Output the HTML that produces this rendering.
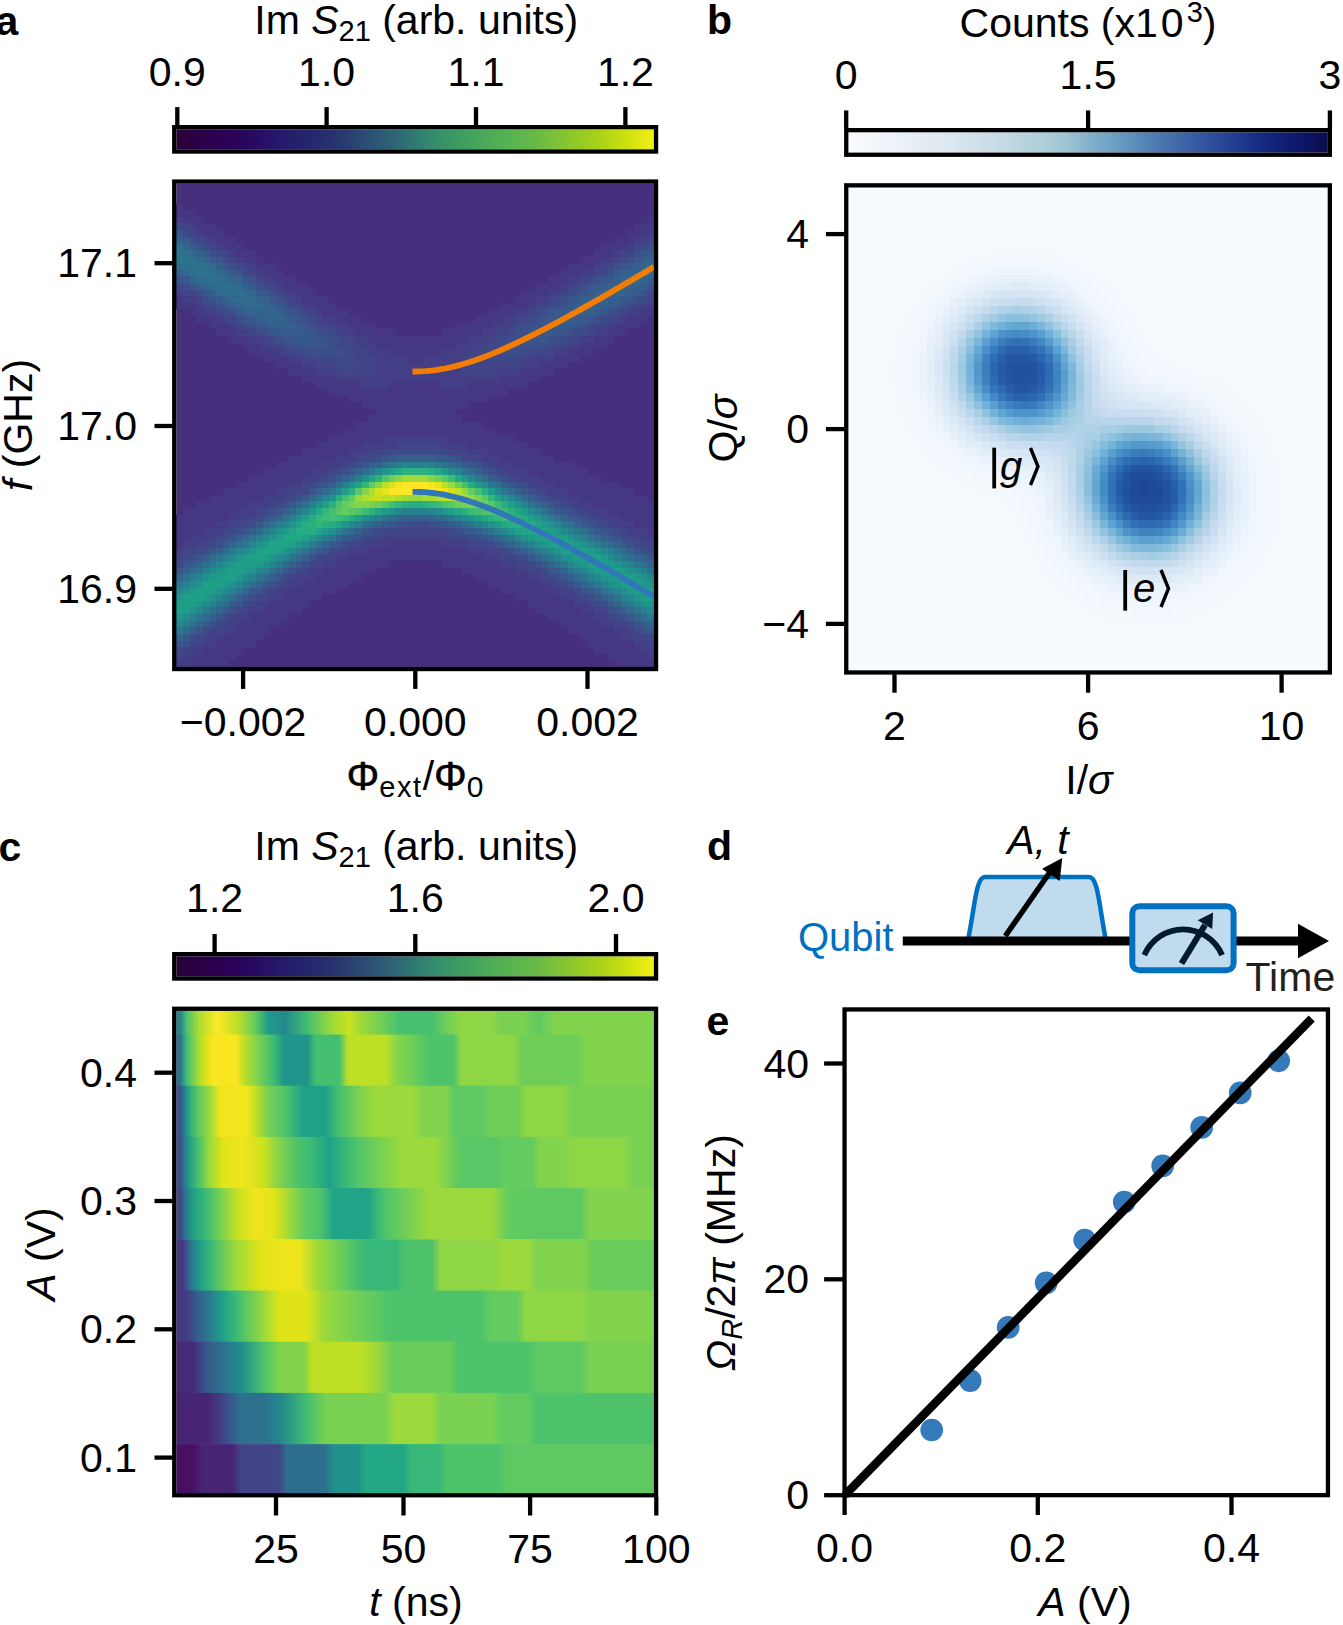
<!DOCTYPE html>
<html><head><meta charset="utf-8"><style>
html,body{margin:0;padding:0;background:#fff;}
svg{display:block;font-family:"Liberation Sans", sans-serif;}
</style></head><body>
<svg width="1343" height="1625" viewBox="0 0 1343 1625">
<defs><linearGradient id="cbv" x1="0" y1="0" x2="1" y2="0"><stop offset="0" stop-color="#2a0038"/><stop offset="0.05" stop-color="#2b0048"/><stop offset="0.1" stop-color="#2a0055"/><stop offset="0.15" stop-color="#28075f"/><stop offset="0.2" stop-color="#261468"/><stop offset="0.25" stop-color="#25216d"/><stop offset="0.3" stop-color="#272a6e"/><stop offset="0.35" stop-color="#283a70"/><stop offset="0.4" stop-color="#2b4e74"/><stop offset="0.45" stop-color="#2d6275"/><stop offset="0.5" stop-color="#2f7a72"/><stop offset="0.55" stop-color="#36906a"/><stop offset="0.6" stop-color="#3f9e60"/><stop offset="0.65" stop-color="#4aab58"/><stop offset="0.7" stop-color="#58b350"/><stop offset="0.75" stop-color="#68b948"/><stop offset="0.8" stop-color="#80c236"/><stop offset="0.85" stop-color="#98cb22"/><stop offset="0.9" stop-color="#b2d516"/><stop offset="0.95" stop-color="#d2e30f"/><stop offset="1.0" stop-color="#f2f016"/></linearGradient><linearGradient id="cbb" x1="0" y1="0" x2="1" y2="0"><stop offset="0" stop-color="#f9fbfe"/><stop offset="0.1" stop-color="#edf2f8"/><stop offset="0.2" stop-color="#dfe8f0"/><stop offset="0.3" stop-color="#cbdce6"/><stop offset="0.4" stop-color="#b0cfda"/><stop offset="0.45" stop-color="#a2c6d4"/><stop offset="0.5" stop-color="#84b3cc"/><stop offset="0.55" stop-color="#6fa1c4"/><stop offset="0.6" stop-color="#5a8cba"/><stop offset="0.65" stop-color="#4a78b0"/><stop offset="0.7" stop-color="#3d64a6"/><stop offset="0.75" stop-color="#30519c"/><stop offset="0.8" stop-color="#233f92"/><stop offset="0.85" stop-color="#182e86"/><stop offset="0.9" stop-color="#102078"/><stop offset="0.95" stop-color="#0d1664"/><stop offset="1.0" stop-color="#0a0d4c"/></linearGradient><linearGradient id="gvir" x1="0" y1="0" x2="1" y2="0"><stop offset="0.0000" stop-color="#440154"/><stop offset="0.0213" stop-color="#46085c"/><stop offset="0.0426" stop-color="#471063"/><stop offset="0.0638" stop-color="#48186a"/><stop offset="0.0851" stop-color="#481f70"/><stop offset="0.1064" stop-color="#482677"/><stop offset="0.1277" stop-color="#472d7b"/><stop offset="0.1489" stop-color="#463480"/><stop offset="0.1702" stop-color="#443a83"/><stop offset="0.1915" stop-color="#424186"/><stop offset="0.2128" stop-color="#3f4788"/><stop offset="0.2340" stop-color="#3d4d8a"/><stop offset="0.2553" stop-color="#3a538b"/><stop offset="0.2766" stop-color="#38598c"/><stop offset="0.2979" stop-color="#355f8d"/><stop offset="0.3191" stop-color="#32648e"/><stop offset="0.3404" stop-color="#306a8e"/><stop offset="0.3617" stop-color="#2e6f8e"/><stop offset="0.3830" stop-color="#2b748e"/><stop offset="0.4043" stop-color="#29798e"/><stop offset="0.4255" stop-color="#277e8e"/><stop offset="0.4468" stop-color="#25838e"/><stop offset="0.4681" stop-color="#23888e"/><stop offset="0.4894" stop-color="#218e8d"/><stop offset="0.5106" stop-color="#20928c"/><stop offset="0.5319" stop-color="#1f988b"/><stop offset="0.5532" stop-color="#1e9d89"/><stop offset="0.5745" stop-color="#1fa287"/><stop offset="0.5957" stop-color="#22a785"/><stop offset="0.6170" stop-color="#25ac82"/><stop offset="0.6383" stop-color="#2cb17e"/><stop offset="0.6596" stop-color="#32b67a"/><stop offset="0.6809" stop-color="#3bbb75"/><stop offset="0.7021" stop-color="#44bf70"/><stop offset="0.7234" stop-color="#50c46a"/><stop offset="0.7447" stop-color="#5ac864"/><stop offset="0.7660" stop-color="#67cc5c"/><stop offset="0.7872" stop-color="#73d056"/><stop offset="0.8085" stop-color="#7fd34e"/><stop offset="0.8298" stop-color="#8ed645"/><stop offset="0.8511" stop-color="#9bd93c"/><stop offset="0.8723" stop-color="#aadc32"/><stop offset="0.8936" stop-color="#b8de29"/><stop offset="0.9149" stop-color="#c8e020"/><stop offset="0.9362" stop-color="#d5e21a"/><stop offset="0.9574" stop-color="#e5e419"/><stop offset="0.9787" stop-color="#f1e51d"/><stop offset="1.0000" stop-color="#fde725"/></linearGradient><linearGradient id="gblu" x1="0" y1="0" x2="1" y2="0"><stop offset="0.0000" stop-color="#f7fbff"/><stop offset="0.0213" stop-color="#f3f8fe"/><stop offset="0.0426" stop-color="#eff6fc"/><stop offset="0.0638" stop-color="#eaf3fb"/><stop offset="0.0851" stop-color="#e7f0fa"/><stop offset="0.1064" stop-color="#e2edf8"/><stop offset="0.1277" stop-color="#deebf7"/><stop offset="0.1489" stop-color="#d9e8f5"/><stop offset="0.1702" stop-color="#d6e5f4"/><stop offset="0.1915" stop-color="#d1e2f3"/><stop offset="0.2128" stop-color="#cde0f1"/><stop offset="0.2340" stop-color="#caddf0"/><stop offset="0.2553" stop-color="#c4daee"/><stop offset="0.2766" stop-color="#bed8ec"/><stop offset="0.2979" stop-color="#b7d4ea"/><stop offset="0.3191" stop-color="#b0d2e7"/><stop offset="0.3404" stop-color="#a9cfe5"/><stop offset="0.3617" stop-color="#a3cce3"/><stop offset="0.3830" stop-color="#9ac8e0"/><stop offset="0.4043" stop-color="#92c4de"/><stop offset="0.4255" stop-color="#8abfdd"/><stop offset="0.4468" stop-color="#80badb"/><stop offset="0.4681" stop-color="#78b5d9"/><stop offset="0.4894" stop-color="#6eb0d7"/><stop offset="0.5106" stop-color="#67abd5"/><stop offset="0.5319" stop-color="#5fa4d1"/><stop offset="0.5532" stop-color="#599fcf"/><stop offset="0.5745" stop-color="#5298cb"/><stop offset="0.5957" stop-color="#4b92c9"/><stop offset="0.6170" stop-color="#468cc5"/><stop offset="0.6383" stop-color="#4185c2"/><stop offset="0.6596" stop-color="#3c7fbf"/><stop offset="0.6809" stop-color="#3678bb"/><stop offset="0.7021" stop-color="#3273b8"/><stop offset="0.7234" stop-color="#2e6db4"/><stop offset="0.7447" stop-color="#2c68b1"/><stop offset="0.7660" stop-color="#2862ad"/><stop offset="0.7872" stop-color="#265daa"/><stop offset="0.8085" stop-color="#2459a7"/><stop offset="0.8298" stop-color="#2254a3"/><stop offset="0.8511" stop-color="#2151a0"/><stop offset="0.8723" stop-color="#204d9c"/><stop offset="0.8936" stop-color="#1e4999"/><stop offset="0.9149" stop-color="#1d4595"/><stop offset="0.9362" stop-color="#1d4191"/><stop offset="0.9574" stop-color="#1c3d8d"/><stop offset="0.9787" stop-color="#1c3a8a"/><stop offset="1.0000" stop-color="#1b3686"/></linearGradient><linearGradient id="gc0" x1="0" y1="0" x2="1" y2="0"><stop offset="0.0000" stop-color="#25848e"/><stop offset="0.0084" stop-color="#25848e"/><stop offset="0.0223" stop-color="#4ec36b"/><stop offset="0.0484" stop-color="#b0dd2f"/><stop offset="0.0856" stop-color="#fde725"/><stop offset="0.1284" stop-color="#bddf26"/><stop offset="0.1657" stop-color="#63cb5f"/><stop offset="0.1917" stop-color="#1e9c89"/><stop offset="0.2271" stop-color="#23898e"/><stop offset="0.2755" stop-color="#44bf70"/><stop offset="0.3239" stop-color="#9bd93c"/><stop offset="0.3611" stop-color="#cae11f"/><stop offset="0.3891" stop-color="#9bd93c"/><stop offset="0.4319" stop-color="#6ece58"/><stop offset="0.4669" stop-color="#48c16e"/><stop offset="0.5346" stop-color="#48c16e"/><stop offset="0.5659" stop-color="#6ece58"/><stop offset="0.5972" stop-color="#8ed645"/><stop offset="0.6612" stop-color="#8ed645"/><stop offset="0.6791" stop-color="#7ad151"/><stop offset="0.7282" stop-color="#7ad151"/><stop offset="0.7595" stop-color="#5ec962"/><stop offset="0.7908" stop-color="#81d34d"/><stop offset="1.0000" stop-color="#81d34d"/></linearGradient><linearGradient id="gc1" x1="0" y1="0" x2="1" y2="0"><stop offset="0.0000" stop-color="#2c738e"/><stop offset="0.0084" stop-color="#2c738e"/><stop offset="0.0205" stop-color="#3bbb75"/><stop offset="0.0391" stop-color="#86d549"/><stop offset="0.0577" stop-color="#d2e21b"/><stop offset="0.0759" stop-color="#f8e621"/><stop offset="0.1251" stop-color="#f8e621"/><stop offset="0.1415" stop-color="#bddf26"/><stop offset="0.1713" stop-color="#7ad151"/><stop offset="0.2048" stop-color="#3bbb75"/><stop offset="0.2249" stop-color="#1f958b"/><stop offset="0.2740" stop-color="#1f958b"/><stop offset="0.2919" stop-color="#44bf70"/><stop offset="0.3410" stop-color="#44bf70"/><stop offset="0.3589" stop-color="#bddf26"/><stop offset="0.4378" stop-color="#bddf26"/><stop offset="0.4617" stop-color="#86d549"/><stop offset="0.4989" stop-color="#69cd5b"/><stop offset="0.5302" stop-color="#4ec36b"/><stop offset="0.5793" stop-color="#4ec36b"/><stop offset="0.5972" stop-color="#8ed645"/><stop offset="0.7059" stop-color="#8ed645"/><stop offset="0.7238" stop-color="#6ece58"/><stop offset="0.8399" stop-color="#6ece58"/><stop offset="0.8578" stop-color="#81d34d"/><stop offset="1.0000" stop-color="#81d34d"/></linearGradient><linearGradient id="gc2" x1="0" y1="0" x2="1" y2="0"><stop offset="0.0000" stop-color="#3b528b"/><stop offset="0.0084" stop-color="#3b528b"/><stop offset="0.0223" stop-color="#1e9c89"/><stop offset="0.0465" stop-color="#63cb5f"/><stop offset="0.0707" stop-color="#9bd93c"/><stop offset="0.0908" stop-color="#f1e51d"/><stop offset="0.1474" stop-color="#f1e51d"/><stop offset="0.1675" stop-color="#bddf26"/><stop offset="0.1899" stop-color="#7ad151"/><stop offset="0.2290" stop-color="#4ec36b"/><stop offset="0.2658" stop-color="#1fa188"/><stop offset="0.3112" stop-color="#1fa188"/><stop offset="0.3388" stop-color="#44bf70"/><stop offset="0.3816" stop-color="#7ad151"/><stop offset="0.4147" stop-color="#9bd93c"/><stop offset="0.4974" stop-color="#9bd93c"/><stop offset="0.5153" stop-color="#81d34d"/><stop offset="0.5644" stop-color="#81d34d"/><stop offset="0.5823" stop-color="#5ec962"/><stop offset="0.6389" stop-color="#5ec962"/><stop offset="0.6567" stop-color="#6ece58"/><stop offset="0.7133" stop-color="#6ece58"/><stop offset="0.7312" stop-color="#8ed645"/><stop offset="0.8101" stop-color="#8ed645"/><stop offset="0.8280" stop-color="#7ad151"/><stop offset="1.0000" stop-color="#7ad151"/></linearGradient><linearGradient id="gc3" x1="0" y1="0" x2="1" y2="0"><stop offset="0.0000" stop-color="#3b528b"/><stop offset="0.0084" stop-color="#3b528b"/><stop offset="0.0223" stop-color="#21918c"/><stop offset="0.0447" stop-color="#44bf70"/><stop offset="0.0689" stop-color="#9bd93c"/><stop offset="0.0968" stop-color="#dfe318"/><stop offset="0.1415" stop-color="#f1e51d"/><stop offset="0.1824" stop-color="#cae11f"/><stop offset="0.2159" stop-color="#81d34d"/><stop offset="0.2532" stop-color="#4ec36b"/><stop offset="0.2829" stop-color="#3bbb75"/><stop offset="0.3202" stop-color="#1fa188"/><stop offset="0.3574" stop-color="#3bbb75"/><stop offset="0.3946" stop-color="#5ec962"/><stop offset="0.4393" stop-color="#81d34d"/><stop offset="0.4706" stop-color="#9bd93c"/><stop offset="0.5421" stop-color="#9bd93c"/><stop offset="0.5696" stop-color="#7ad151"/><stop offset="0.5972" stop-color="#58c765"/><stop offset="0.6687" stop-color="#58c765"/><stop offset="0.6865" stop-color="#63cb5f"/><stop offset="0.7431" stop-color="#63cb5f"/><stop offset="0.7610" stop-color="#81d34d"/><stop offset="0.8101" stop-color="#81d34d"/><stop offset="0.8280" stop-color="#8ed645"/><stop offset="0.9367" stop-color="#8ed645"/><stop offset="0.9546" stop-color="#7ad151"/><stop offset="1.0000" stop-color="#7ad151"/></linearGradient><linearGradient id="gc4" x1="0" y1="0" x2="1" y2="0"><stop offset="0.0000" stop-color="#3e4989"/><stop offset="0.0084" stop-color="#3e4989"/><stop offset="0.0205" stop-color="#287d8e"/><stop offset="0.0410" stop-color="#22a884"/><stop offset="0.0670" stop-color="#44bf70"/><stop offset="0.0968" stop-color="#81d34d"/><stop offset="0.1303" stop-color="#cae11f"/><stop offset="0.1675" stop-color="#f1e51d"/><stop offset="0.2048" stop-color="#dfe318"/><stop offset="0.2383" stop-color="#9bd93c"/><stop offset="0.2681" stop-color="#63cb5f"/><stop offset="0.3016" stop-color="#4ec36b"/><stop offset="0.3291" stop-color="#20a386"/><stop offset="0.4006" stop-color="#20a386"/><stop offset="0.4356" stop-color="#4ec36b"/><stop offset="0.4914" stop-color="#7ad151"/><stop offset="0.5302" stop-color="#9bd93c"/><stop offset="0.6612" stop-color="#9bd93c"/><stop offset="0.6962" stop-color="#63cb5f"/><stop offset="0.7312" stop-color="#5ec962"/><stop offset="0.8474" stop-color="#5ec962"/><stop offset="0.8652" stop-color="#81d34d"/><stop offset="1.0000" stop-color="#81d34d"/></linearGradient><linearGradient id="gc5" x1="0" y1="0" x2="1" y2="0"><stop offset="0.0000" stop-color="#453781"/><stop offset="0.0140" stop-color="#453781"/><stop offset="0.0279" stop-color="#2f6c8e"/><stop offset="0.0484" stop-color="#1e9c89"/><stop offset="0.0782" stop-color="#44bf70"/><stop offset="0.1229" stop-color="#9bd93c"/><stop offset="0.1750" stop-color="#dfe318"/><stop offset="0.2100" stop-color="#ece51b"/><stop offset="0.2591" stop-color="#ece51b"/><stop offset="0.2978" stop-color="#9bd93c"/><stop offset="0.3574" stop-color="#5ec962"/><stop offset="0.3961" stop-color="#37b878"/><stop offset="0.4602" stop-color="#37b878"/><stop offset="0.4780" stop-color="#4ec36b"/><stop offset="0.5346" stop-color="#4ec36b"/><stop offset="0.5525" stop-color="#8ed645"/><stop offset="0.6612" stop-color="#8ed645"/><stop offset="0.6791" stop-color="#9bd93c"/><stop offset="0.7357" stop-color="#9bd93c"/><stop offset="0.7535" stop-color="#81d34d"/><stop offset="0.8548" stop-color="#81d34d"/><stop offset="0.8727" stop-color="#69cd5b"/><stop offset="1.0000" stop-color="#69cd5b"/></linearGradient><linearGradient id="gc6" x1="0" y1="0" x2="1" y2="0"><stop offset="0.0000" stop-color="#443a83"/><stop offset="0.0223" stop-color="#443a83"/><stop offset="0.0447" stop-color="#355f8d"/><stop offset="0.0745" stop-color="#26828e"/><stop offset="0.1042" stop-color="#22a884"/><stop offset="0.1378" stop-color="#4ec36b"/><stop offset="0.1824" stop-color="#9bd93c"/><stop offset="0.2174" stop-color="#dfe318"/><stop offset="0.2740" stop-color="#dfe318"/><stop offset="0.3090" stop-color="#9bd93c"/><stop offset="0.3649" stop-color="#7ad151"/><stop offset="0.4170" stop-color="#5ec962"/><stop offset="0.4483" stop-color="#4ec36b"/><stop offset="0.6389" stop-color="#4ec36b"/><stop offset="0.6567" stop-color="#63cb5f"/><stop offset="0.7133" stop-color="#63cb5f"/><stop offset="0.7312" stop-color="#8ed645"/><stop offset="0.8474" stop-color="#8ed645"/><stop offset="0.8652" stop-color="#81d34d"/><stop offset="1.0000" stop-color="#81d34d"/></linearGradient><linearGradient id="gc7" x1="0" y1="0" x2="1" y2="0"><stop offset="0.0000" stop-color="#472a7a"/><stop offset="0.0357" stop-color="#472a7a"/><stop offset="0.0633" stop-color="#375a8c"/><stop offset="0.1005" stop-color="#2c738e"/><stop offset="0.1396" stop-color="#21918c"/><stop offset="0.1843" stop-color="#4ec36b"/><stop offset="0.2174" stop-color="#81d34d"/><stop offset="0.2666" stop-color="#81d34d"/><stop offset="0.2844" stop-color="#bddf26"/><stop offset="0.3857" stop-color="#bddf26"/><stop offset="0.4207" stop-color="#9bd93c"/><stop offset="0.4557" stop-color="#69cd5b"/><stop offset="0.5719" stop-color="#69cd5b"/><stop offset="0.5897" stop-color="#4ec36b"/><stop offset="0.7357" stop-color="#4ec36b"/><stop offset="0.7535" stop-color="#5ec962"/><stop offset="0.8474" stop-color="#5ec962"/><stop offset="0.8652" stop-color="#7ad151"/><stop offset="1.0000" stop-color="#7ad151"/></linearGradient><linearGradient id="gc8" x1="0" y1="0" x2="1" y2="0"><stop offset="0.0000" stop-color="#482475"/><stop offset="0.0655" stop-color="#482475"/><stop offset="0.1005" stop-color="#3e4989"/><stop offset="0.1355" stop-color="#2d718e"/><stop offset="0.1847" stop-color="#2d718e"/><stop offset="0.2197" stop-color="#228b8d"/><stop offset="0.2755" stop-color="#44bf70"/><stop offset="0.3142" stop-color="#7ad151"/><stop offset="0.4378" stop-color="#7ad151"/><stop offset="0.4557" stop-color="#9bd93c"/><stop offset="0.5346" stop-color="#9bd93c"/><stop offset="0.5525" stop-color="#7ad151"/><stop offset="0.6612" stop-color="#7ad151"/><stop offset="0.6791" stop-color="#63cb5f"/><stop offset="0.7357" stop-color="#63cb5f"/><stop offset="0.7535" stop-color="#4ec36b"/><stop offset="1.0000" stop-color="#4ec36b"/></linearGradient><linearGradient id="gc9" x1="0" y1="0" x2="1" y2="0"><stop offset="0.0000" stop-color="#471063"/><stop offset="0.0357" stop-color="#471063"/><stop offset="0.0536" stop-color="#482475"/><stop offset="0.1176" stop-color="#482475"/><stop offset="0.1355" stop-color="#414487"/><stop offset="0.2144" stop-color="#414487"/><stop offset="0.2323" stop-color="#2e6f8e"/><stop offset="0.3112" stop-color="#2e6f8e"/><stop offset="0.3291" stop-color="#21918c"/><stop offset="0.3783" stop-color="#21918c"/><stop offset="0.3961" stop-color="#22a884"/><stop offset="0.4751" stop-color="#22a884"/><stop offset="0.4929" stop-color="#37b878"/><stop offset="0.5495" stop-color="#37b878"/><stop offset="0.5674" stop-color="#4ec36b"/><stop offset="0.6761" stop-color="#4ec36b"/><stop offset="0.6940" stop-color="#5ec962"/><stop offset="1.0000" stop-color="#5ec962"/></linearGradient></defs>
<rect width="1343" height="1625" fill="#fff"/>
<rect x="176.4" y="183.7" width="477.60" height="483.30" fill="#46307e"/>
<g transform="translate(176.40,183.70) scale(6.6333,6.6205)" shape-rendering="crispEdges">
<path fill="#453781" d="M0 3h1v1h-1zM0 4h3v1h-3zM1 5h3v1h-3zM71 5h1v1h-1zM3 6h3v1h-3zM69 6h3v1h-3zM4 7h3v1h-3zM68 7h3v1h-3zM6 8h3v1h-3zM66 8h3v1h-3zM7 9h3v1h-3zM64 9h4v1h-4zM9 10h3v1h-3zM63 10h3v1h-3zM10 11h3v1h-3zM61 11h3v1h-3zM12 12h3v1h-3zM59 12h4v1h-4zM13 13h3v1h-3zM58 13h3v1h-3zM15 14h3v1h-3zM56 14h3v1h-3zM16 15h4v1h-4zM54 15h4v1h-4zM18 16h3v1h-3zM52 16h4v1h-4zM0 17h1v1h-1zM19 17h4v1h-4zM51 17h3v1h-3zM0 18h3v1h-3zM21 18h3v1h-3zM49 18h4v1h-4zM2 19h2v1h-2zM22 19h4v1h-4zM47 19h4v1h-4zM70 19h2v1h-2zM3 20h3v1h-3zM24 20h4v1h-4zM45 20h4v1h-4zM68 20h3v1h-3zM5 21h3v1h-3zM26 21h4v1h-4zM42 21h6v1h-6zM66 21h4v1h-4zM6 22h3v1h-3zM27 22h6v1h-6zM40 22h6v1h-6zM65 22h3v1h-3zM8 23h3v1h-3zM29 23h15v1h-15zM63 23h3v1h-3zM10 24h3v1h-3zM30 24h12v1h-12zM61 24h4v1h-4zM11 25h4v1h-4zM32 25h8v1h-8zM59 25h4v1h-4zM13 26h4v1h-4zM35 26h2v1h-2zM57 26h4v1h-4zM15 27h4v1h-4zM55 27h4v1h-4zM17 28h4v1h-4zM52 28h5v1h-5zM19 29h5v1h-5zM49 29h6v1h-6zM21 30h7v1h-7zM32 30h8v1h-8zM44 30h9v1h-9zM23 31h27v1h-27zM26 32h21v1h-21zM28 33h16v1h-16zM30 34h12v1h-12zM29 35h14v1h-14zM27 36h19v1h-19zM25 37h23v1h-23zM23 38h8v1h-8zM41 38h10v1h-10zM21 39h7v1h-7zM44 39h9v1h-9zM19 40h7v1h-7zM47 40h8v1h-8zM17 41h7v1h-7zM49 41h8v1h-8zM15 42h7v1h-7zM51 42h9v1h-9zM13 43h7v1h-7zM53 43h9v1h-9zM11 44h8v1h-8zM55 44h9v1h-9zM9 45h8v1h-8zM57 45h10v1h-10zM7 46h8v1h-8zM59 46h10v1h-10zM5 47h8v1h-8zM61 47h10v1h-10zM3 48h8v1h-8zM63 48h9v1h-9zM1 49h8v1h-8zM65 49h7v1h-7zM0 50h8v1h-8zM67 50h5v1h-5zM0 51h6v1h-6zM69 51h3v1h-3zM0 52h4v1h-4zM71 52h1v1h-1zM0 53h2v1h-2zM0 54h1v1h-1zM32 54h8v1h-8zM29 55h15v1h-15zM26 56h20v1h-20zM24 57h8v1h-8zM40 57h9v1h-9zM22 58h8v1h-8zM43 58h8v1h-8zM21 59h7v1h-7zM45 59h8v1h-8zM19 60h7v1h-7zM47 60h8v1h-8zM17 61h7v1h-7zM49 61h7v1h-7zM16 62h6v1h-6zM51 62h7v1h-7zM14 63h6v1h-6zM53 63h7v1h-7zM13 64h6v1h-6zM54 64h7v1h-7zM11 65h6v1h-6zM56 65h7v1h-7zM10 66h6v1h-6zM58 66h6v1h-6zM9 67h5v1h-5zM59 67h7v1h-7zM7 68h6v1h-6zM61 68h6v1h-6zM6 69h6v1h-6zM62 69h7v1h-7zM4 70h6v1h-6zM63 70h7v1h-7zM3 71h6v1h-6zM65 71h6v1h-6zM2 72h6v1h-6zM66 72h6v1h-6z"/>
<path fill="#433e85" d="M0 5h1v1h-1zM2 6h1v1h-1zM3 7h1v1h-1zM71 7h1v1h-1zM5 8h1v1h-1zM69 8h2v1h-2zM6 9h1v1h-1zM68 9h1v1h-1zM8 10h1v1h-1zM66 10h1v1h-1zM9 11h1v1h-1zM64 11h2v1h-2zM11 12h1v1h-1zM63 12h1v1h-1zM12 13h1v1h-1zM61 13h2v1h-2zM13 14h2v1h-2zM59 14h2v1h-2zM15 15h1v1h-1zM58 15h1v1h-1zM0 16h1v1h-1zM16 16h2v1h-2zM56 16h2v1h-2zM1 17h2v1h-2zM18 17h1v1h-1zM54 17h2v1h-2zM3 18h1v1h-1zM19 18h2v1h-2zM53 18h1v1h-1zM70 18h2v1h-2zM4 19h2v1h-2zM21 19h1v1h-1zM51 19h2v1h-2zM68 19h2v1h-2zM6 20h1v1h-1zM22 20h2v1h-2zM49 20h2v1h-2zM67 20h1v1h-1zM8 21h1v1h-1zM24 21h2v1h-2zM48 21h2v1h-2zM65 21h1v1h-1zM9 22h2v1h-2zM25 22h2v1h-2zM46 22h2v1h-2zM63 22h2v1h-2zM11 23h2v1h-2zM27 23h2v1h-2zM44 23h3v1h-3zM61 23h2v1h-2zM13 24h1v1h-1zM28 24h2v1h-2zM42 24h3v1h-3zM59 24h2v1h-2zM15 25h1v1h-1zM29 25h3v1h-3zM40 25h4v1h-4zM57 25h2v1h-2zM17 26h2v1h-2zM30 26h5v1h-5zM37 26h6v1h-6zM54 26h3v1h-3zM19 27h2v1h-2zM30 27h12v1h-12zM52 27h3v1h-3zM21 28h3v1h-3zM30 28h13v1h-13zM48 28h4v1h-4zM24 29h25v1h-25zM28 30h4v1h-4zM40 30h4v1h-4zM31 38h10v1h-10zM28 39h5v1h-5zM40 39h4v1h-4zM26 40h3v1h-3zM44 40h3v1h-3zM24 41h3v1h-3zM46 41h3v1h-3zM22 42h3v1h-3zM48 42h3v1h-3zM20 43h3v1h-3zM50 43h3v1h-3zM19 44h2v1h-2zM52 44h3v1h-3zM17 45h2v1h-2zM54 45h3v1h-3zM15 46h2v1h-2zM56 46h3v1h-3zM13 47h3v1h-3zM58 47h3v1h-3zM11 48h3v1h-3zM60 48h3v1h-3zM9 49h3v1h-3zM62 49h3v1h-3zM8 50h2v1h-2zM64 50h3v1h-3zM6 51h2v1h-2zM66 51h3v1h-3zM4 52h3v1h-3zM68 52h3v1h-3zM2 53h3v1h-3zM31 53h10v1h-10zM70 53h2v1h-2zM1 54h2v1h-2zM28 54h4v1h-4zM40 54h4v1h-4zM0 55h1v1h-1zM26 55h3v1h-3zM44 55h3v1h-3zM24 56h2v1h-2zM46 56h3v1h-3zM22 57h2v1h-2zM49 57h2v1h-2zM20 58h2v1h-2zM51 58h2v1h-2zM18 59h3v1h-3zM53 59h2v1h-2zM17 60h2v1h-2zM55 60h2v1h-2zM15 61h2v1h-2zM56 61h2v1h-2zM14 62h2v1h-2zM58 62h2v1h-2zM12 63h2v1h-2zM60 63h2v1h-2zM11 64h2v1h-2zM61 64h2v1h-2zM9 65h2v1h-2zM63 65h2v1h-2zM8 66h2v1h-2zM64 66h2v1h-2zM7 67h2v1h-2zM66 67h2v1h-2zM5 68h2v1h-2zM67 68h2v1h-2zM4 69h2v1h-2zM69 69h2v1h-2zM2 70h2v1h-2zM70 70h2v1h-2zM1 71h2v1h-2zM71 71h1v1h-1zM0 72h2v1h-2z"/>
<path fill="#3e4989" d="M0 6h1v1h-1zM1 7h1v1h-1zM3 8h1v1h-1zM4 9h1v1h-1zM70 9h1v1h-1zM6 10h1v1h-1zM7 11h1v1h-1zM67 11h1v1h-1zM9 12h1v1h-1zM65 12h1v1h-1zM10 13h1v1h-1zM64 13h1v1h-1zM62 14h1v1h-1zM0 15h1v1h-1zM13 15h1v1h-1zM60 15h1v1h-1zM2 16h1v1h-1zM59 16h1v1h-1zM71 16h1v1h-1zM16 17h1v1h-1zM57 17h1v1h-1zM70 17h1v1h-1zM5 18h1v1h-1zM17 18h1v1h-1zM56 18h1v1h-1zM68 18h1v1h-1zM7 19h1v1h-1zM19 19h1v1h-1zM54 19h1v1h-1zM66 19h1v1h-1zM20 20h1v1h-1zM53 20h1v1h-1zM64 20h1v1h-1zM10 21h1v1h-1zM21 21h1v1h-1zM51 21h1v1h-1zM62 21h1v1h-1zM12 22h1v1h-1zM23 22h1v1h-1zM50 22h1v1h-1zM60 22h2v1h-2zM14 23h1v1h-1zM24 23h1v1h-1zM48 23h2v1h-2zM58 23h2v1h-2zM16 24h1v1h-1zM24 24h2v1h-2zM47 24h2v1h-2zM56 24h1v1h-1zM18 25h2v1h-2zM25 25h2v1h-2zM46 25h3v1h-3zM52 25h3v1h-3zM21 26h6v1h-6zM46 26h6v1h-6zM24 27h2v1h-2zM31 40h10v1h-10zM28 41h2v1h-2zM43 41h1v1h-1zM26 42h1v1h-1zM46 42h1v1h-1zM24 43h1v1h-1zM48 43h1v1h-1zM22 44h1v1h-1zM50 44h1v1h-1zM20 45h1v1h-1zM52 45h1v1h-1zM19 46h1v1h-1zM54 46h1v1h-1zM17 47h1v1h-1zM56 47h1v1h-1zM15 48h1v1h-1zM58 48h1v1h-1zM13 49h1v1h-1zM60 49h1v1h-1zM12 50h1v1h-1zM62 50h1v1h-1zM10 51h1v1h-1zM35 51h3v1h-3zM64 51h1v1h-1zM8 52h1v1h-1zM30 52h2v1h-2zM40 52h2v1h-2zM66 52h1v1h-1zM6 53h1v1h-1zM28 53h1v1h-1zM44 53h1v1h-1zM67 53h2v1h-2zM5 54h1v1h-1zM25 54h1v1h-1zM46 54h2v1h-2zM69 54h1v1h-1zM3 55h1v1h-1zM23 55h1v1h-1zM49 55h1v1h-1zM71 55h1v1h-1zM1 56h1v1h-1zM21 56h1v1h-1zM51 56h1v1h-1zM0 57h1v1h-1zM53 57h1v1h-1zM18 58h1v1h-1zM55 58h1v1h-1zM16 59h1v1h-1zM56 59h1v1h-1zM15 60h1v1h-1zM58 60h1v1h-1zM13 61h1v1h-1zM60 61h1v1h-1zM12 62h1v1h-1zM61 62h1v1h-1zM10 63h1v1h-1zM63 63h1v1h-1zM9 64h1v1h-1zM7 65h1v1h-1zM66 65h1v1h-1zM6 66h1v1h-1zM68 66h1v1h-1zM4 67h1v1h-1zM69 67h1v1h-1zM3 68h1v1h-1zM71 68h1v1h-1zM2 69h1v1h-1zM0 70h1v1h-1z"/>
<path fill="#414487" d="M1 6h1v1h-1zM2 7h1v1h-1zM4 8h1v1h-1zM71 8h1v1h-1zM5 9h1v1h-1zM69 9h1v1h-1zM7 10h1v1h-1zM67 10h2v1h-2zM8 11h1v1h-1zM66 11h1v1h-1zM10 12h1v1h-1zM64 12h1v1h-1zM11 13h1v1h-1zM63 13h1v1h-1zM12 14h1v1h-1zM61 14h1v1h-1zM14 15h1v1h-1zM59 15h1v1h-1zM1 16h1v1h-1zM15 16h1v1h-1zM58 16h1v1h-1zM3 17h1v1h-1zM17 17h1v1h-1zM56 17h1v1h-1zM71 17h1v1h-1zM4 18h1v1h-1zM18 18h1v1h-1zM54 18h2v1h-2zM69 18h1v1h-1zM6 19h1v1h-1zM20 19h1v1h-1zM53 19h1v1h-1zM67 19h1v1h-1zM7 20h2v1h-2zM21 20h1v1h-1zM51 20h2v1h-2zM65 20h2v1h-2zM9 21h1v1h-1zM22 21h2v1h-2zM50 21h1v1h-1zM63 21h2v1h-2zM11 22h1v1h-1zM24 22h1v1h-1zM48 22h2v1h-2zM62 22h1v1h-1zM13 23h1v1h-1zM25 23h2v1h-2zM47 23h1v1h-1zM60 23h1v1h-1zM14 24h2v1h-2zM26 24h2v1h-2zM45 24h2v1h-2zM57 24h2v1h-2zM16 25h2v1h-2zM27 25h2v1h-2zM44 25h2v1h-2zM55 25h2v1h-2zM19 26h2v1h-2zM27 26h3v1h-3zM43 26h3v1h-3zM52 26h2v1h-2zM21 27h3v1h-3zM26 27h4v1h-4zM42 27h10v1h-10zM24 28h6v1h-6zM43 28h5v1h-5zM33 39h7v1h-7zM29 40h2v1h-2zM41 40h3v1h-3zM27 41h1v1h-1zM44 41h2v1h-2zM25 42h1v1h-1zM47 42h1v1h-1zM23 43h1v1h-1zM49 43h1v1h-1zM21 44h1v1h-1zM51 44h1v1h-1zM19 45h1v1h-1zM53 45h1v1h-1zM17 46h2v1h-2zM55 46h1v1h-1zM16 47h1v1h-1zM57 47h1v1h-1zM14 48h1v1h-1zM59 48h1v1h-1zM12 49h1v1h-1zM61 49h1v1h-1zM10 50h2v1h-2zM63 50h1v1h-1zM8 51h2v1h-2zM65 51h1v1h-1zM7 52h1v1h-1zM32 52h8v1h-8zM67 52h1v1h-1zM5 53h1v1h-1zM29 53h2v1h-2zM41 53h3v1h-3zM69 53h1v1h-1zM3 54h2v1h-2zM26 54h2v1h-2zM44 54h2v1h-2zM70 54h2v1h-2zM1 55h2v1h-2zM24 55h2v1h-2zM47 55h2v1h-2zM0 56h1v1h-1zM22 56h2v1h-2zM49 56h2v1h-2zM20 57h2v1h-2zM51 57h2v1h-2zM19 58h1v1h-1zM53 58h2v1h-2zM17 59h1v1h-1zM55 59h1v1h-1zM16 60h1v1h-1zM57 60h1v1h-1zM14 61h1v1h-1zM58 61h2v1h-2zM13 62h1v1h-1zM60 62h1v1h-1zM11 63h1v1h-1zM62 63h1v1h-1zM10 64h1v1h-1zM63 64h2v1h-2zM8 65h1v1h-1zM65 65h1v1h-1zM7 66h1v1h-1zM66 66h2v1h-2zM5 67h2v1h-2zM68 67h1v1h-1zM4 68h1v1h-1zM69 68h2v1h-2zM3 69h1v1h-1zM71 69h1v1h-1zM1 70h1v1h-1zM0 71h1v1h-1z"/>
<path fill="#3a548c" d="M0 7h1v1h-1zM3 9h1v1h-1zM70 10h1v1h-1zM6 11h1v1h-1zM69 11h1v1h-1zM7 12h1v1h-1zM67 12h1v1h-1zM9 13h1v1h-1zM0 14h1v1h-1zM10 14h1v1h-1zM64 14h1v1h-1zM2 15h1v1h-1zM62 15h1v1h-1zM71 15h1v1h-1zM13 16h1v1h-1zM61 16h1v1h-1zM70 16h1v1h-1zM5 17h1v1h-1zM14 17h1v1h-1zM59 17h1v1h-1zM68 17h1v1h-1zM7 18h1v1h-1zM16 18h1v1h-1zM58 18h1v1h-1zM66 18h1v1h-1zM17 19h1v1h-1zM56 19h1v1h-1zM64 19h1v1h-1zM10 20h1v1h-1zM18 20h1v1h-1zM55 20h1v1h-1zM62 20h1v1h-1zM12 21h1v1h-1zM19 21h1v1h-1zM54 21h1v1h-1zM60 21h1v1h-1zM14 22h1v1h-1zM20 22h1v1h-1zM53 22h2v1h-2zM57 22h2v1h-2zM16 23h2v1h-2zM20 23h2v1h-2zM52 23h4v1h-4zM19 24h4v1h-4zM31 41h1v1h-1zM41 41h1v1h-1zM28 42h1v1h-1zM44 42h1v1h-1zM46 43h1v1h-1zM48 44h1v1h-1zM22 45h1v1h-1zM50 45h1v1h-1zM20 46h1v1h-1zM52 46h1v1h-1zM54 47h1v1h-1zM56 48h1v1h-1zM15 49h1v1h-1zM58 49h1v1h-1zM13 50h1v1h-1zM60 50h1v1h-1zM32 51h1v1h-1zM40 51h1v1h-1zM62 51h1v1h-1zM10 52h1v1h-1zM28 52h1v1h-1zM43 52h1v1h-1zM64 52h1v1h-1zM8 53h1v1h-1zM26 53h1v1h-1zM46 53h1v1h-1zM66 53h1v1h-1zM24 54h1v1h-1zM48 54h1v1h-1zM5 55h1v1h-1zM22 55h1v1h-1zM69 55h1v1h-1zM3 56h1v1h-1zM20 56h1v1h-1zM71 56h1v1h-1zM1 57h1v1h-1zM18 57h1v1h-1zM0 58h1v1h-1zM56 58h1v1h-1zM15 59h1v1h-1zM58 59h1v1h-1zM13 60h1v1h-1zM12 61h1v1h-1zM61 61h1v1h-1zM10 62h1v1h-1zM63 62h1v1h-1zM9 63h1v1h-1zM66 64h1v1h-1zM6 65h1v1h-1zM69 66h1v1h-1zM3 67h1v1h-1zM0 69h1v1h-1z"/>
<path fill="#355f8d" d="M0 8h1v1h-1zM3 10h1v1h-1zM70 11h1v1h-1zM6 12h1v1h-1zM69 12h1v1h-1zM0 13h1v1h-1zM67 13h1v1h-1zM9 14h1v1h-1zM66 14h1v1h-1zM71 14h1v1h-1zM3 15h1v1h-1zM10 15h1v1h-1zM64 15h1v1h-1zM69 15h2v1h-2zM5 16h1v1h-1zM63 16h1v1h-1zM68 16h1v1h-1zM13 17h1v1h-1zM61 17h2v1h-2zM65 17h2v1h-2zM8 18h1v1h-1zM14 18h1v1h-1zM60 18h2v1h-2zM63 18h2v1h-2zM10 19h1v1h-1zM15 19h1v1h-1zM59 19h4v1h-4zM12 20h2v1h-2zM16 20h1v1h-1zM58 20h2v1h-2zM14 21h4v1h-4zM33 41h6v1h-6zM29 42h1v1h-1zM45 43h1v1h-1zM47 44h1v1h-1zM23 45h1v1h-1zM49 45h1v1h-1zM21 46h1v1h-1zM51 46h1v1h-1zM53 47h1v1h-1zM55 48h1v1h-1zM16 49h1v1h-1zM34 50h4v1h-4zM30 51h1v1h-1zM42 51h1v1h-1zM11 52h1v1h-1zM27 52h1v1h-1zM45 52h1v1h-1zM9 53h1v1h-1zM64 53h1v1h-1zM66 54h1v1h-1zM6 55h1v1h-1zM52 55h1v1h-1zM68 55h1v1h-1zM4 56h1v1h-1zM19 56h1v1h-1zM70 56h1v1h-1zM17 57h1v1h-1zM1 58h1v1h-1zM14 59h1v1h-1zM59 59h1v1h-1zM12 60h1v1h-1zM9 62h1v1h-1zM64 62h1v1h-1zM67 64h1v1h-1zM5 65h1v1h-1zM2 67h1v1h-1z"/>
<path fill="#375a8c" d="M1 8h1v1h-1zM2 9h1v1h-1zM4 10h1v1h-1zM71 10h1v1h-1zM5 11h1v1h-1zM68 12h1v1h-1zM8 13h1v1h-1zM66 13h1v1h-1zM1 14h1v1h-1zM65 14h1v1h-1zM11 15h1v1h-1zM63 15h1v1h-1zM4 16h1v1h-1zM12 16h1v1h-1zM62 16h1v1h-1zM69 16h1v1h-1zM6 17h1v1h-1zM60 17h1v1h-1zM67 17h1v1h-1zM15 18h1v1h-1zM59 18h1v1h-1zM65 18h1v1h-1zM9 19h1v1h-1zM16 19h1v1h-1zM57 19h2v1h-2zM63 19h1v1h-1zM11 20h1v1h-1zM17 20h1v1h-1zM56 20h2v1h-2zM60 20h2v1h-2zM13 21h1v1h-1zM18 21h1v1h-1zM55 21h5v1h-5zM15 22h5v1h-5zM55 22h2v1h-2zM18 23h2v1h-2zM32 41h1v1h-1zM39 41h2v1h-2zM43 42h1v1h-1zM26 43h1v1h-1zM24 44h1v1h-1zM19 47h1v1h-1zM17 48h1v1h-1zM57 49h1v1h-1zM14 50h1v1h-1zM59 50h1v1h-1zM12 51h1v1h-1zM31 51h1v1h-1zM41 51h1v1h-1zM61 51h1v1h-1zM44 52h1v1h-1zM63 52h1v1h-1zM25 53h1v1h-1zM47 53h1v1h-1zM65 53h1v1h-1zM7 54h1v1h-1zM23 54h1v1h-1zM49 54h1v1h-1zM67 54h1v1h-1zM21 55h1v1h-1zM51 55h1v1h-1zM53 56h1v1h-1zM2 57h1v1h-1zM55 57h1v1h-1zM16 58h1v1h-1zM57 58h1v1h-1zM60 60h1v1h-1zM11 61h1v1h-1zM62 61h1v1h-1zM8 63h1v1h-1zM65 63h1v1h-1zM7 64h1v1h-1zM68 65h1v1h-1zM4 66h1v1h-1zM70 66h1v1h-1zM71 67h1v1h-1zM1 68h1v1h-1z"/>
<path fill="#3c4f8a" d="M2 8h1v1h-1zM71 9h1v1h-1zM5 10h1v1h-1zM69 10h1v1h-1zM68 11h1v1h-1zM8 12h1v1h-1zM66 12h1v1h-1zM65 13h1v1h-1zM11 14h1v1h-1zM63 14h1v1h-1zM1 15h1v1h-1zM12 15h1v1h-1zM61 15h1v1h-1zM3 16h1v1h-1zM14 16h1v1h-1zM60 16h1v1h-1zM4 17h1v1h-1zM15 17h1v1h-1zM58 17h1v1h-1zM69 17h1v1h-1zM6 18h1v1h-1zM57 18h1v1h-1zM67 18h1v1h-1zM8 19h1v1h-1zM18 19h1v1h-1zM55 19h1v1h-1zM65 19h1v1h-1zM9 20h1v1h-1zM19 20h1v1h-1zM54 20h1v1h-1zM63 20h1v1h-1zM11 21h1v1h-1zM20 21h1v1h-1zM52 21h2v1h-2zM61 21h1v1h-1zM13 22h1v1h-1zM21 22h2v1h-2zM51 22h2v1h-2zM59 22h1v1h-1zM15 23h1v1h-1zM22 23h2v1h-2zM50 23h2v1h-2zM56 23h2v1h-2zM17 24h2v1h-2zM23 24h1v1h-1zM49 24h7v1h-7zM20 25h5v1h-5zM49 25h3v1h-3zM30 41h1v1h-1zM42 41h1v1h-1zM27 42h1v1h-1zM45 42h1v1h-1zM25 43h1v1h-1zM47 43h1v1h-1zM23 44h1v1h-1zM49 44h1v1h-1zM21 45h1v1h-1zM51 45h1v1h-1zM53 46h1v1h-1zM18 47h1v1h-1zM55 47h1v1h-1zM16 48h1v1h-1zM57 48h1v1h-1zM14 49h1v1h-1zM59 49h1v1h-1zM61 50h1v1h-1zM11 51h1v1h-1zM33 51h2v1h-2zM38 51h2v1h-2zM63 51h1v1h-1zM9 52h1v1h-1zM29 52h1v1h-1zM42 52h1v1h-1zM65 52h1v1h-1zM7 53h1v1h-1zM27 53h1v1h-1zM45 53h1v1h-1zM6 54h1v1h-1zM68 54h1v1h-1zM4 55h1v1h-1zM50 55h1v1h-1zM70 55h1v1h-1zM2 56h1v1h-1zM52 56h1v1h-1zM19 57h1v1h-1zM54 57h1v1h-1zM17 58h1v1h-1zM57 59h1v1h-1zM14 60h1v1h-1zM59 60h1v1h-1zM11 62h1v1h-1zM62 62h1v1h-1zM64 63h1v1h-1zM8 64h1v1h-1zM65 64h1v1h-1zM67 65h1v1h-1zM5 66h1v1h-1zM70 67h1v1h-1zM2 68h1v1h-1zM1 69h1v1h-1z"/>
<path fill="#2e6f8e" d="M0 9h1v1h-1zM1 10h1v1h-1zM0 12h2v1h-2zM4 12h1v1h-1zM2 13h1v1h-1zM5 13h1v1h-1zM4 14h3v1h-3zM6 15h3v1h-3zM8 16h2v1h-2zM31 42h1v1h-1zM28 43h1v1h-1zM26 44h1v1h-1zM46 44h1v1h-1zM24 45h1v1h-1zM48 45h1v1h-1zM19 48h1v1h-1zM40 50h1v1h-1zM57 50h1v1h-1zM14 51h1v1h-1zM28 51h1v1h-1zM59 51h1v1h-1zM61 52h1v1h-1zM49 53h1v1h-1zM9 54h1v1h-1zM21 54h1v1h-1zM51 54h1v1h-1zM53 55h1v1h-1zM55 56h1v1h-1zM68 56h1v1h-1zM4 57h1v1h-1zM57 57h1v1h-1zM70 57h1v1h-1zM14 58h1v1h-1zM1 59h1v1h-1zM11 60h1v1h-1zM62 60h1v1h-1zM8 62h1v1h-1zM67 63h1v1h-1zM5 64h1v1h-1zM70 65h1v1h-1zM2 66h1v1h-1z"/>
<path fill="#32648e" d="M1 9h1v1h-1zM4 11h1v1h-1zM71 11h1v1h-1zM70 12h1v1h-1zM7 13h1v1h-1zM68 13h2v1h-2zM2 14h1v1h-1zM8 14h1v1h-1zM67 14h1v1h-1zM70 14h1v1h-1zM4 15h1v1h-1zM65 15h4v1h-4zM11 16h1v1h-1zM64 16h4v1h-4zM7 17h1v1h-1zM12 17h1v1h-1zM63 17h2v1h-2zM9 18h1v1h-1zM13 18h1v1h-1zM62 18h1v1h-1zM11 19h4v1h-4zM14 20h2v1h-2zM30 42h1v1h-1zM42 42h1v1h-1zM27 43h1v1h-1zM25 44h1v1h-1zM20 47h1v1h-1zM18 48h1v1h-1zM56 49h1v1h-1zM15 50h1v1h-1zM33 50h1v1h-1zM38 50h1v1h-1zM58 50h1v1h-1zM13 51h1v1h-1zM29 51h1v1h-1zM60 51h1v1h-1zM62 52h1v1h-1zM24 53h1v1h-1zM48 53h1v1h-1zM8 54h1v1h-1zM22 54h1v1h-1zM50 54h1v1h-1zM20 55h1v1h-1zM54 56h1v1h-1zM69 56h1v1h-1zM3 57h1v1h-1zM56 57h1v1h-1zM71 57h1v1h-1zM15 58h1v1h-1zM58 58h1v1h-1zM0 59h1v1h-1zM61 60h1v1h-1zM63 61h1v1h-1zM66 63h1v1h-1zM6 64h1v1h-1zM69 65h1v1h-1zM3 66h1v1h-1zM71 66h1v1h-1zM0 68h1v1h-1z"/>
<path fill="#2c738e" d="M0 10h1v1h-1zM0 11h3v1h-3zM2 12h2v1h-2zM3 13h2v1h-2zM40 42h1v1h-1zM43 43h1v1h-1zM21 47h1v1h-1zM53 48h1v1h-1zM55 49h1v1h-1zM16 50h1v1h-1zM31 50h1v1h-1zM44 51h1v1h-1zM25 52h1v1h-1zM47 52h1v1h-1zM11 53h1v1h-1zM23 53h1v1h-1zM62 53h1v1h-1zM64 54h1v1h-1zM19 55h1v1h-1zM66 55h1v1h-1zM6 56h1v1h-1zM17 56h1v1h-1zM3 58h1v1h-1zM59 58h1v1h-1zM71 58h1v1h-1zM12 59h1v1h-1zM61 59h1v1h-1zM9 61h1v1h-1zM64 61h1v1h-1zM66 62h1v1h-1zM6 63h1v1h-1zM69 64h1v1h-1zM3 65h1v1h-1z"/>
<path fill="#306a8e" d="M2 10h1v1h-1zM3 11h1v1h-1zM5 12h1v1h-1zM71 12h1v1h-1zM1 13h1v1h-1zM6 13h1v1h-1zM70 13h2v1h-2zM3 14h1v1h-1zM7 14h1v1h-1zM68 14h2v1h-2zM5 15h1v1h-1zM9 15h1v1h-1zM6 16h2v1h-2zM10 16h1v1h-1zM8 17h4v1h-4zM10 18h3v1h-3zM41 42h1v1h-1zM44 43h1v1h-1zM22 46h1v1h-1zM50 46h1v1h-1zM52 47h1v1h-1zM54 48h1v1h-1zM17 49h1v1h-1zM32 50h1v1h-1zM39 50h1v1h-1zM43 51h1v1h-1zM12 52h1v1h-1zM26 52h1v1h-1zM46 52h1v1h-1zM10 53h1v1h-1zM63 53h1v1h-1zM65 54h1v1h-1zM7 55h1v1h-1zM67 55h1v1h-1zM5 56h1v1h-1zM18 56h1v1h-1zM16 57h1v1h-1zM2 58h1v1h-1zM13 59h1v1h-1zM60 59h1v1h-1zM10 61h1v1h-1zM65 62h1v1h-1zM7 63h1v1h-1zM68 64h1v1h-1zM4 65h1v1h-1zM1 67h1v1h-1z"/>
<path fill="#2a788e" d="M32 42h1v1h-1zM39 42h1v1h-1zM29 43h1v1h-1zM45 44h1v1h-1zM47 45h1v1h-1zM23 46h1v1h-1zM49 46h1v1h-1zM51 47h1v1h-1zM18 49h1v1h-1zM41 50h1v1h-1zM58 51h1v1h-1zM13 52h1v1h-1zM60 52h1v1h-1zM50 53h1v1h-1zM10 54h1v1h-1zM52 54h1v1h-1zM8 55h1v1h-1zM54 55h1v1h-1zM56 56h1v1h-1zM67 56h1v1h-1zM5 57h1v1h-1zM15 57h1v1h-1zM58 57h1v1h-1zM69 57h1v1h-1zM0 60h1v1h-1zM10 60h1v1h-1zM63 60h1v1h-1zM7 62h1v1h-1zM68 63h1v1h-1zM4 64h1v1h-1zM71 65h1v1h-1zM0 67h1v1h-1z"/>
<path fill="#287d8e" d="M33 42h1v1h-1zM38 42h1v1h-1zM27 44h1v1h-1zM25 45h1v1h-1zM20 48h1v1h-1zM35 49h2v1h-2zM54 49h1v1h-1zM30 50h1v1h-1zM56 50h1v1h-1zM15 51h1v1h-1zM27 51h1v1h-1zM45 51h1v1h-1zM12 53h1v1h-1zM22 53h1v1h-1zM20 54h1v1h-1zM63 54h1v1h-1zM18 55h1v1h-1zM65 55h1v1h-1zM7 56h1v1h-1zM13 58h1v1h-1zM60 58h1v1h-1zM2 59h1v1h-1zM65 61h1v1h-1zM70 64h1v1h-1zM1 66h1v1h-1z"/>
<path fill="#26828e" d="M34 42h4v1h-4zM42 43h1v1h-1zM52 48h1v1h-1zM34 49h1v1h-1zM37 49h1v1h-1zM17 50h1v1h-1zM42 50h1v1h-1zM14 52h1v1h-1zM24 52h1v1h-1zM48 52h1v1h-1zM59 52h1v1h-1zM61 53h1v1h-1zM53 54h1v1h-1zM9 55h1v1h-1zM55 55h1v1h-1zM16 56h1v1h-1zM57 56h1v1h-1zM66 56h1v1h-1zM68 57h1v1h-1zM4 58h1v1h-1zM70 58h1v1h-1zM11 59h1v1h-1zM62 59h1v1h-1zM1 60h1v1h-1zM64 60h1v1h-1zM8 61h1v1h-1zM67 62h1v1h-1zM5 63h1v1h-1zM2 65h1v1h-1z"/>
<path fill="#24868e" d="M30 43h1v1h-1zM44 44h1v1h-1zM48 46h1v1h-1zM22 47h1v1h-1zM50 47h1v1h-1zM19 49h1v1h-1zM33 49h1v1h-1zM38 49h1v1h-1zM29 50h1v1h-1zM55 50h1v1h-1zM16 51h1v1h-1zM26 51h1v1h-1zM46 51h1v1h-1zM57 51h1v1h-1zM51 53h1v1h-1zM11 54h1v1h-1zM62 54h1v1h-1zM64 55h1v1h-1zM8 56h1v1h-1zM6 57h1v1h-1zM14 57h1v1h-1zM59 57h1v1h-1zM12 58h1v1h-1zM61 58h1v1h-1zM3 59h1v1h-1zM71 59h1v1h-1zM9 60h1v1h-1zM0 61h1v1h-1zM66 61h1v1h-1zM6 62h1v1h-1zM69 63h1v1h-1zM3 64h1v1h-1zM71 64h1v1h-1zM0 66h1v1h-1z"/>
<path fill="#1f958b" d="M31 43h1v1h-1zM23 47h1v1h-1zM49 47h1v1h-1zM20 49h1v1h-1zM40 49h1v1h-1zM44 50h1v1h-1zM54 50h1v1h-1zM17 51h1v1h-1zM25 51h1v1h-1zM47 51h1v1h-1zM50 52h1v1h-1zM57 52h1v1h-1zM14 53h1v1h-1zM20 53h1v1h-1zM59 53h1v1h-1zM18 54h1v1h-1zM55 54h1v1h-1zM11 55h1v1h-1zM16 55h1v1h-1zM57 55h1v1h-1zM9 56h1v1h-1zM14 56h1v1h-1zM59 56h1v1h-1zM64 56h1v1h-1zM66 57h1v1h-1zM6 58h1v1h-1zM11 58h1v1h-1zM9 59h1v1h-1zM64 59h1v1h-1zM3 60h1v1h-1zM66 60h1v1h-1zM71 60h1v1h-1zM6 61h1v1h-1zM0 62h1v1h-1zM69 62h1v1h-1zM3 63h1v1h-1zM71 63h1v1h-1zM0 65h1v1h-1z"/>
<path fill="#1f9f88" d="M32 43h1v1h-1zM25 46h1v1h-1zM22 48h1v1h-1zM50 48h1v1h-1zM41 49h1v1h-1zM19 50h1v1h-1zM27 50h1v1h-1zM45 50h1v1h-1zM53 50h1v1h-1zM48 51h1v1h-1zM51 52h1v1h-1zM56 52h1v1h-1zM15 53h1v1h-1zM19 53h1v1h-1zM54 53h1v1h-1zM58 53h1v1h-1zM17 54h1v1h-1zM56 54h1v1h-1zM59 54h1v1h-1zM12 55h1v1h-1zM15 55h1v1h-1zM58 55h2v1h-2zM61 55h1v1h-1zM11 56h1v1h-1zM13 56h1v1h-1zM60 56h4v1h-4zM9 57h3v1h-3zM62 57h3v1h-3zM8 58h2v1h-2zM64 58h3v1h-3zM6 59h3v1h-3zM66 59h3v1h-3zM4 60h3v1h-3zM67 60h3v1h-3zM3 61h3v1h-3zM69 61h3v1h-3zM1 62h3v1h-3zM71 62h1v1h-1zM0 63h3v1h-3zM0 64h1v1h-1z"/>
<path fill="#22a884" d="M33 43h1v1h-1zM42 44h1v1h-1zM21 49h1v1h-1zM42 49h1v1h-1zM51 49h1v1h-1zM46 50h1v1h-1zM52 50h1v1h-1zM49 51h1v1h-1zM53 52h2v1h-2zM16 53h3v1h-3z"/>
<path fill="#2cb17e" d="M34 43h4v1h-4zM30 44h1v1h-1zM26 46h1v1h-1zM23 48h1v1h-1zM34 48h1v1h-1zM37 48h1v1h-1zM29 49h1v1h-1zM43 49h1v1h-1zM50 49h1v1h-1zM47 50h1v1h-1zM51 50h1v1h-1zM20 51h1v1h-1zM22 51h1v1h-1zM51 51h1v1h-1z"/>
<path fill="#26ad81" d="M38 43h1v1h-1zM44 45h1v1h-1zM46 46h1v1h-1zM24 47h1v1h-1zM35 48h2v1h-2zM49 48h1v1h-1zM20 50h1v1h-1zM26 50h1v1h-1zM19 51h1v1h-1zM23 51h1v1h-1zM50 51h1v1h-1zM52 51h2v1h-2zM18 52h3v1h-3z"/>
<path fill="#20a386" d="M39 43h1v1h-1zM29 44h1v1h-1zM27 45h1v1h-1zM48 47h1v1h-1zM30 49h1v1h-1zM18 51h1v1h-1zM24 51h1v1h-1zM54 51h1v1h-1zM17 52h1v1h-1zM21 52h1v1h-1zM52 52h1v1h-1zM55 52h1v1h-1zM55 53h3v1h-3zM14 54h3v1h-3zM57 54h2v1h-2zM13 55h2v1h-2zM60 55h1v1h-1zM12 56h1v1h-1z"/>
<path fill="#1f9a8a" d="M40 43h1v1h-1zM43 44h1v1h-1zM45 45h1v1h-1zM47 46h1v1h-1zM31 49h1v1h-1zM52 49h1v1h-1zM55 51h1v1h-1zM16 52h1v1h-1zM22 52h1v1h-1zM53 53h1v1h-1zM13 54h1v1h-1zM60 54h1v1h-1zM62 55h1v1h-1zM10 56h1v1h-1zM8 57h1v1h-1zM12 57h1v1h-1zM61 57h1v1h-1zM65 57h1v1h-1zM7 58h1v1h-1zM10 58h1v1h-1zM63 58h1v1h-1zM67 58h1v1h-1zM5 59h1v1h-1zM65 59h1v1h-1zM69 59h1v1h-1zM7 60h1v1h-1zM70 60h1v1h-1zM2 61h1v1h-1zM68 61h1v1h-1zM4 62h1v1h-1zM70 62h1v1h-1zM1 64h1v1h-1z"/>
<path fill="#228b8d" d="M41 43h1v1h-1zM46 45h1v1h-1zM24 46h1v1h-1zM39 49h1v1h-1zM53 49h1v1h-1zM43 50h1v1h-1zM49 52h1v1h-1zM58 52h1v1h-1zM13 53h1v1h-1zM21 53h1v1h-1zM60 53h1v1h-1zM19 54h1v1h-1zM10 55h1v1h-1zM17 55h1v1h-1zM56 55h1v1h-1zM15 56h1v1h-1zM65 56h1v1h-1zM67 57h1v1h-1zM5 58h1v1h-1zM69 58h1v1h-1zM10 59h1v1h-1zM63 59h1v1h-1zM2 60h1v1h-1zM7 61h1v1h-1zM68 62h1v1h-1zM4 63h1v1h-1zM1 65h1v1h-1z"/>
<path fill="#21918c" d="M28 44h1v1h-1zM26 45h1v1h-1zM21 48h1v1h-1zM51 48h1v1h-1zM32 49h1v1h-1zM18 50h1v1h-1zM28 50h1v1h-1zM56 51h1v1h-1zM15 52h1v1h-1zM23 52h1v1h-1zM52 53h1v1h-1zM12 54h1v1h-1zM54 54h1v1h-1zM61 54h1v1h-1zM63 55h1v1h-1zM58 56h1v1h-1zM7 57h1v1h-1zM13 57h1v1h-1zM60 57h1v1h-1zM62 58h1v1h-1zM68 58h1v1h-1zM4 59h1v1h-1zM70 59h1v1h-1zM8 60h1v1h-1zM65 60h1v1h-1zM1 61h1v1h-1zM67 61h1v1h-1zM5 62h1v1h-1zM70 63h1v1h-1zM2 64h1v1h-1z"/>
<path fill="#4ec36b" d="M31 44h1v1h-1zM24 48h1v1h-1zM40 48h1v1h-1zM27 49h1v1h-1zM46 49h3v1h-3z"/>
<path fill="#6ece58" d="M32 44h1v1h-1zM39 44h1v1h-1zM42 45h1v1h-1zM30 48h1v1h-1zM42 48h1v1h-1zM46 48h1v1h-1z"/>
<path fill="#86d549" d="M33 44h1v1h-1zM38 44h1v1h-1zM30 45h1v1h-1zM28 46h1v1h-1zM27 48h2v1h-2z"/>
<path fill="#a2da37" d="M34 44h4v1h-4zM34 47h1v1h-1zM37 47h2v1h-2z"/>
<path fill="#58c765" d="M40 44h1v1h-1zM27 46h1v1h-1zM46 47h1v1h-1zM31 48h1v1h-1zM41 48h1v1h-1zM47 48h1v1h-1zM24 49h1v1h-1zM26 49h1v1h-1z"/>
<path fill="#3bbb75" d="M41 44h1v1h-1zM39 48h1v1h-1zM48 48h1v1h-1zM28 49h1v1h-1zM44 49h1v1h-1zM49 49h1v1h-1zM22 50h1v1h-1zM24 50h1v1h-1zM49 50h1v1h-1z"/>
<path fill="#32b67a" d="M28 45h1v1h-1zM47 47h1v1h-1zM33 48h1v1h-1zM38 48h1v1h-1zM22 49h1v1h-1zM21 50h1v1h-1zM25 50h1v1h-1zM48 50h1v1h-1zM50 50h1v1h-1zM21 51h1v1h-1z"/>
<path fill="#63cb5f" d="M29 45h1v1h-1zM44 46h1v1h-1zM26 47h1v1h-1zM25 48h1v1h-1zM25 49h1v1h-1z"/>
<path fill="#bddf26" d="M31 45h1v1h-1zM40 45h1v1h-1zM42 46h1v1h-1zM29 47h1v1h-1zM31 47h2v1h-2zM40 47h3v1h-3z"/>
<path fill="#d8e219" d="M32 45h1v1h-1zM30 46h1v1h-1zM41 46h1v1h-1z"/>
<path fill="#f1e51d" d="M33 45h1v1h-1zM38 45h1v1h-1zM40 46h1v1h-1z"/>
<path fill="#fde725" d="M34 45h4v1h-4zM32 46h8v1h-8z"/>
<path fill="#e5e419" d="M39 45h1v1h-1zM31 46h1v1h-1z"/>
<path fill="#95d840" d="M41 45h1v1h-1zM43 46h1v1h-1zM27 47h1v1h-1zM35 47h2v1h-2zM44 47h1v1h-1z"/>
<path fill="#44bf70" d="M43 45h1v1h-1zM45 46h1v1h-1zM25 47h1v1h-1zM32 48h1v1h-1zM23 49h1v1h-1zM45 49h1v1h-1zM23 50h1v1h-1z"/>
<path fill="#b0dd2f" d="M29 46h1v1h-1zM28 47h1v1h-1zM33 47h1v1h-1zM39 47h1v1h-1zM43 47h1v1h-1z"/>
<path fill="#cae11f" d="M30 47h1v1h-1z"/>
<path fill="#7ad151" d="M45 47h1v1h-1zM26 48h1v1h-1zM29 48h1v1h-1zM43 48h3v1h-3z"/>
</g>
<polyline points="412.5,491.9 416.6,491.9 420.7,492.0 424.8,492.2 428.9,492.6 433.0,493.0 437.1,493.5 441.2,494.2 445.2,494.9 449.3,495.8 453.4,496.7 457.5,497.8 461.6,498.9 465.7,500.1 469.8,501.4 473.9,502.7 478.0,504.2 482.1,505.7 486.2,507.2 490.3,508.8 494.4,510.5 498.5,512.2 502.6,514.0 506.6,515.8 510.7,517.7 514.8,519.6 518.9,521.5 523.0,523.5 527.1,525.5 531.2,527.5 535.3,529.6 539.4,531.7 543.5,533.8 547.6,535.9 551.7,538.1 555.8,540.2 559.9,542.4 563.9,544.7 568.0,546.9 572.1,549.1 576.2,551.4 580.3,553.7 584.4,556.0 588.5,558.3 592.6,560.6 596.7,563.0 600.8,565.3 604.9,567.6 609.0,570.0 613.1,572.4 617.2,574.8 621.3,577.2 625.3,579.6 629.4,582.0 633.5,584.4 637.6,586.8 641.7,589.2 645.8,591.7 649.9,594.1 654.0,596.6" fill="none" stroke="#2f77b8" stroke-width="5.8"/>
<polyline points="412.5,371.5 416.6,371.5 420.7,371.4 424.8,371.2 428.9,370.8 433.0,370.4 437.1,369.9 441.2,369.2 445.2,368.5 449.3,367.6 453.4,366.7 457.5,365.6 461.6,364.5 465.7,363.3 469.8,362.0 473.9,360.7 478.0,359.2 482.1,357.7 486.2,356.2 490.3,354.6 494.4,352.9 498.5,351.2 502.6,349.4 506.6,347.6 510.7,345.7 514.8,343.8 518.9,341.9 523.0,339.9 527.1,337.9 531.2,335.9 535.3,333.8 539.4,331.7 543.5,329.6 547.6,327.5 551.7,325.3 555.8,323.2 559.9,321.0 563.9,318.7 568.0,316.5 572.1,314.2 576.2,312.0 580.3,309.7 584.4,307.4 588.5,305.1 592.6,302.8 596.7,300.4 600.8,298.1 604.9,295.7 609.0,293.4 613.1,291.0 617.2,288.6 621.3,286.2 625.3,283.8 629.4,281.4 633.5,279.0 637.6,276.6 641.7,274.2 645.8,271.7 649.9,269.3 654.0,266.8" fill="none" stroke="#f37d04" stroke-width="5.8"/>
<rect x="176.4" y="129.3" width="477.6" height="20.2" fill="url(#cbv)"/>
<rect x="174.25" y="127.15" width="481.80" height="24.40" fill="none" stroke="#000" stroke-width="4.3"/>
<line x1="177.30" y1="107.10" x2="177.30" y2="125.50" stroke="#000" stroke-width="4.3" stroke-linecap="butt"/>
<text x="177.30" y="85.80" font-size="41" text-anchor="middle" >0.9</text>
<line x1="326.60" y1="107.10" x2="326.60" y2="125.50" stroke="#000" stroke-width="4.3" stroke-linecap="butt"/>
<text x="326.60" y="85.80" font-size="41" text-anchor="middle" >1.0</text>
<line x1="476.00" y1="107.10" x2="476.00" y2="125.50" stroke="#000" stroke-width="4.3" stroke-linecap="butt"/>
<text x="476.00" y="85.80" font-size="41" text-anchor="middle" >1.1</text>
<line x1="625.40" y1="107.10" x2="625.40" y2="125.50" stroke="#000" stroke-width="4.3" stroke-linecap="butt"/>
<text x="625.40" y="85.80" font-size="41" text-anchor="middle" >1.2</text>
<text x="416.20" y="34.30" font-size="41" text-anchor="middle" >Im <tspan font-style="italic">S</tspan><tspan font-size="29" dy="7">21</tspan><tspan dy="-7"> (arb. units)</tspan></text>
<rect x="174.25" y="181.55" width="481.80" height="487.50" fill="none" stroke="#000" stroke-width="4.3"/>
<line x1="154.50" y1="263.20" x2="172.50" y2="263.20" stroke="#000" stroke-width="4.3" stroke-linecap="butt"/>
<text x="137.00" y="277.30" font-size="41" text-anchor="end" >17.1</text>
<line x1="154.50" y1="426.00" x2="172.50" y2="426.00" stroke="#000" stroke-width="4.3" stroke-linecap="butt"/>
<text x="137.00" y="440.10" font-size="41" text-anchor="end" >17.0</text>
<line x1="154.50" y1="588.80" x2="172.50" y2="588.80" stroke="#000" stroke-width="4.3" stroke-linecap="butt"/>
<text x="137.00" y="602.90" font-size="41" text-anchor="end" >16.9</text>
<line x1="243.10" y1="670.80" x2="243.10" y2="688.90" stroke="#000" stroke-width="4.3" stroke-linecap="butt"/>
<text x="243.10" y="736.20" font-size="41" text-anchor="middle" >−0.002</text>
<line x1="415.30" y1="670.80" x2="415.30" y2="688.90" stroke="#000" stroke-width="4.3" stroke-linecap="butt"/>
<text x="415.30" y="736.20" font-size="41" text-anchor="middle" >0.000</text>
<line x1="587.50" y1="670.80" x2="587.50" y2="688.90" stroke="#000" stroke-width="4.3" stroke-linecap="butt"/>
<text x="587.50" y="736.20" font-size="41" text-anchor="middle" >0.002</text>
<text x="415.00" y="789.50" font-size="41" text-anchor="middle" ><tspan stroke="#000" stroke-width="0.5">Φ</tspan><tspan font-size="29" dy="7" letter-spacing="1.6">ext</tspan><tspan dy="-7">/</tspan><tspan stroke="#000" stroke-width="0.5">Φ</tspan><tspan font-size="30" dy="7">0</tspan></text>
<text x="32.00" y="425.00" font-size="41" text-anchor="middle" transform="rotate(-90 32 425)"><tspan font-style="italic">f</tspan> (GHz)</text>
<text x="-4.50" y="34.60" font-size="41" text-anchor="start" font-weight="bold">a</text>
<rect x="848.3" y="187.5" width="479.5" height="482.9" fill="#f7fbff"/>
<g transform="translate(848.30,187.50) scale(7.8607,7.9164)" shape-rendering="crispEdges">
<path fill="#f5f9fe" d="M18 7h8v1h-8zM15 8h13v1h-13zM13 9h4v1h-4zM26 9h4v1h-4zM12 10h3v1h-3zM29 10h3v1h-3zM10 11h3v1h-3zM30 11h3v1h-3zM9 12h3v1h-3zM31 12h3v1h-3zM9 13h2v1h-2zM32 13h3v1h-3zM8 14h2v1h-2zM33 14h2v1h-2zM7 15h2v1h-2zM34 15h2v1h-2zM7 16h2v1h-2zM35 16h2v1h-2zM6 17h2v1h-2zM35 17h2v1h-2zM6 18h2v1h-2zM36 18h2v1h-2zM6 19h2v1h-2zM36 19h2v1h-2zM6 20h1v1h-1zM37 20h2v1h-2zM5 21h2v1h-2zM37 21h4v1h-4zM5 22h2v1h-2zM39 22h5v1h-5zM5 23h2v1h-2zM41 23h5v1h-5zM5 24h2v1h-2zM44 24h4v1h-4zM6 25h1v1h-1zM46 25h3v1h-3zM6 26h2v1h-2zM47 26h3v1h-3zM6 27h2v1h-2zM48 27h3v1h-3zM6 28h2v1h-2zM49 28h3v1h-3zM7 29h2v1h-2zM50 29h3v1h-3zM7 30h2v1h-2zM51 30h2v1h-2zM8 31h2v1h-2zM52 31h2v1h-2zM9 32h2v1h-2zM52 32h2v1h-2zM9 33h3v1h-3zM52 33h2v1h-2zM10 34h3v1h-3zM53 34h2v1h-2zM11 35h3v1h-3zM53 35h2v1h-2zM13 36h3v1h-3zM53 36h2v1h-2zM14 37h5v1h-5zM53 37h2v1h-2zM16 38h5v1h-5zM53 38h2v1h-2zM19 39h3v1h-3zM53 39h2v1h-2zM20 40h2v1h-2zM53 40h2v1h-2zM21 41h2v1h-2zM53 41h2v1h-2zM21 42h2v1h-2zM53 42h2v1h-2zM22 43h2v1h-2zM53 43h2v1h-2zM22 44h2v1h-2zM52 44h2v1h-2zM23 45h2v1h-2zM52 45h2v1h-2zM23 46h2v1h-2zM51 46h2v1h-2zM24 47h2v1h-2zM51 47h2v1h-2zM24 48h3v1h-3zM50 48h2v1h-2zM25 49h3v1h-3zM49 49h2v1h-2zM26 50h3v1h-3zM48 50h2v1h-2zM27 51h3v1h-3zM46 51h3v1h-3zM29 52h3v1h-3zM44 52h4v1h-4zM30 53h6v1h-6zM41 53h5v1h-5zM32 54h12v1h-12zM38 55h1v1h-1z"/>
<path fill="#f2f8fd" d="M17 9h9v1h-9zM15 10h2v1h-2zM26 10h3v1h-3zM13 11h2v1h-2zM28 11h2v1h-2zM12 12h1v1h-1zM30 12h1v1h-1zM11 13h1v1h-1zM31 13h1v1h-1zM10 14h1v1h-1zM32 14h1v1h-1zM9 15h1v1h-1zM33 15h1v1h-1zM9 16h1v1h-1zM34 16h1v1h-1zM8 17h1v1h-1zM34 17h1v1h-1zM8 18h1v1h-1zM35 18h1v1h-1zM8 19h1v1h-1zM35 19h1v1h-1zM7 20h1v1h-1zM36 20h1v1h-1zM7 21h1v1h-1zM36 21h1v1h-1zM7 22h1v1h-1zM37 22h2v1h-2zM7 23h1v1h-1zM38 23h3v1h-3zM7 24h1v1h-1zM41 24h3v1h-3zM7 25h1v1h-1zM44 25h2v1h-2zM8 26h1v1h-1zM46 26h1v1h-1zM8 27h1v1h-1zM47 27h1v1h-1zM8 28h1v1h-1zM48 28h1v1h-1zM9 29h1v1h-1zM49 29h1v1h-1zM9 30h1v1h-1zM50 30h1v1h-1zM10 31h1v1h-1zM51 31h1v1h-1zM11 32h1v1h-1zM51 32h1v1h-1zM12 33h1v1h-1zM51 33h1v1h-1zM13 34h1v1h-1zM52 34h1v1h-1zM14 35h2v1h-2zM52 35h1v1h-1zM16 36h3v1h-3zM52 36h1v1h-1zM19 37h2v1h-2zM52 37h1v1h-1zM21 38h1v1h-1zM52 38h1v1h-1zM22 39h1v1h-1zM52 39h1v1h-1zM22 40h2v1h-2zM52 40h1v1h-1zM23 41h1v1h-1zM52 41h1v1h-1zM23 42h1v1h-1zM52 42h1v1h-1zM24 43h1v1h-1zM52 43h1v1h-1zM24 44h1v1h-1zM51 44h1v1h-1zM25 45h1v1h-1zM51 45h1v1h-1zM25 46h1v1h-1zM50 46h1v1h-1zM26 47h1v1h-1zM49 47h2v1h-2zM27 48h1v1h-1zM48 48h2v1h-2zM28 49h1v1h-1zM47 49h2v1h-2zM29 50h2v1h-2zM46 50h2v1h-2zM30 51h2v1h-2zM44 51h2v1h-2zM32 52h3v1h-3zM41 52h3v1h-3zM36 53h5v1h-5z"/>
<path fill="#f0f6fd" d="M17 10h2v1h-2zM24 10h2v1h-2zM15 11h1v1h-1zM27 11h1v1h-1zM13 12h1v1h-1zM29 12h1v1h-1zM12 13h1v1h-1zM30 13h1v1h-1zM11 14h1v1h-1zM31 14h1v1h-1zM10 15h1v1h-1zM32 15h1v1h-1zM10 16h1v1h-1zM33 16h1v1h-1zM9 17h1v1h-1zM33 17h1v1h-1zM9 18h1v1h-1zM34 18h1v1h-1zM34 19h1v1h-1zM8 20h1v1h-1zM35 20h1v1h-1zM8 21h1v1h-1zM35 21h1v1h-1zM8 22h1v1h-1zM36 22h1v1h-1zM8 23h1v1h-1zM37 23h1v1h-1zM8 24h1v1h-1zM39 24h2v1h-2zM8 25h1v1h-1zM42 25h2v1h-2zM44 26h2v1h-2zM9 27h1v1h-1zM46 27h1v1h-1zM9 28h1v1h-1zM47 28h1v1h-1zM48 29h1v1h-1zM10 30h1v1h-1zM49 30h1v1h-1zM11 31h1v1h-1zM50 31h1v1h-1zM12 32h1v1h-1zM50 32h1v1h-1zM13 33h1v1h-1zM14 34h2v1h-2zM51 34h1v1h-1zM16 35h2v1h-2zM51 35h1v1h-1zM19 36h2v1h-2zM21 37h2v1h-2zM22 38h1v1h-1zM23 39h1v1h-1zM24 41h1v1h-1zM51 41h1v1h-1zM24 42h1v1h-1zM51 42h1v1h-1zM51 43h1v1h-1zM25 44h1v1h-1zM50 44h1v1h-1zM26 45h1v1h-1zM50 45h1v1h-1zM26 46h1v1h-1zM49 46h1v1h-1zM27 47h1v1h-1zM48 47h1v1h-1zM28 48h1v1h-1zM47 48h1v1h-1zM29 49h1v1h-1zM46 49h1v1h-1zM31 50h1v1h-1zM45 50h1v1h-1zM32 51h2v1h-2zM42 51h2v1h-2zM35 52h6v1h-6z"/>
<path fill="#eef5fc" d="M19 10h5v1h-5zM16 11h1v1h-1zM26 11h1v1h-1zM14 12h1v1h-1zM28 12h1v1h-1zM13 13h1v1h-1zM29 13h1v1h-1zM12 14h1v1h-1zM30 14h1v1h-1zM11 15h1v1h-1zM31 15h1v1h-1zM32 16h1v1h-1zM10 17h1v1h-1zM33 18h1v1h-1zM9 19h1v1h-1zM9 20h1v1h-1zM34 20h1v1h-1zM35 22h1v1h-1zM36 23h1v1h-1zM37 24h2v1h-2zM40 25h2v1h-2zM9 26h1v1h-1zM43 26h1v1h-1zM45 27h1v1h-1zM10 28h1v1h-1zM46 28h1v1h-1zM10 29h1v1h-1zM47 29h1v1h-1zM11 30h1v1h-1zM48 30h1v1h-1zM12 31h1v1h-1zM49 31h1v1h-1zM13 32h1v1h-1zM14 33h1v1h-1zM50 33h1v1h-1zM16 34h1v1h-1zM18 35h1v1h-1zM21 36h1v1h-1zM51 36h1v1h-1zM51 37h1v1h-1zM23 38h1v1h-1zM51 38h1v1h-1zM24 39h1v1h-1zM51 39h1v1h-1zM24 40h1v1h-1zM51 40h1v1h-1zM25 42h1v1h-1zM25 43h1v1h-1zM50 43h1v1h-1zM26 44h1v1h-1zM49 45h1v1h-1zM27 46h1v1h-1zM28 47h1v1h-1zM29 48h1v1h-1zM30 49h1v1h-1zM45 49h1v1h-1zM32 50h1v1h-1zM43 50h2v1h-2zM34 51h3v1h-3zM40 51h2v1h-2z"/>
<path fill="#eaf3fb" d="M17 11h2v1h-2zM24 11h2v1h-2zM15 12h1v1h-1zM27 12h1v1h-1zM14 13h1v1h-1zM11 16h1v1h-1zM32 17h1v1h-1zM10 18h1v1h-1zM33 19h1v1h-1zM9 21h1v1h-1zM34 21h1v1h-1zM9 22h1v1h-1zM9 23h1v1h-1zM35 23h1v1h-1zM9 24h1v1h-1zM36 24h1v1h-1zM9 25h1v1h-1zM39 25h1v1h-1zM42 26h1v1h-1zM10 27h1v1h-1zM44 27h1v1h-1zM11 29h1v1h-1zM49 32h1v1h-1zM15 33h1v1h-1zM17 34h1v1h-1zM50 34h1v1h-1zM19 35h2v1h-2zM50 35h1v1h-1zM22 36h1v1h-1zM23 37h1v1h-1zM24 38h1v1h-1zM25 41h1v1h-1zM50 42h1v1h-1zM49 44h1v1h-1zM27 45h1v1h-1zM48 46h1v1h-1zM47 47h1v1h-1zM46 48h1v1h-1zM31 49h1v1h-1zM33 50h1v1h-1zM42 50h1v1h-1zM37 51h3v1h-3z"/>
<path fill="#e8f1fa" d="M19 11h5v1h-5zM16 12h1v1h-1zM26 12h1v1h-1zM28 13h1v1h-1zM13 14h1v1h-1zM29 14h1v1h-1zM12 15h1v1h-1zM30 15h1v1h-1zM31 16h1v1h-1zM32 18h1v1h-1zM10 19h1v1h-1zM33 20h1v1h-1zM34 22h1v1h-1zM35 24h1v1h-1zM37 25h2v1h-2zM10 26h1v1h-1zM41 26h1v1h-1zM43 27h1v1h-1zM45 28h1v1h-1zM46 29h1v1h-1zM12 30h1v1h-1zM47 30h1v1h-1zM13 31h1v1h-1zM48 31h1v1h-1zM14 32h1v1h-1zM16 33h1v1h-1zM49 33h1v1h-1zM18 34h1v1h-1zM21 35h1v1h-1zM23 36h1v1h-1zM50 36h1v1h-1zM24 37h1v1h-1zM50 37h1v1h-1zM50 38h1v1h-1zM50 39h1v1h-1zM25 40h1v1h-1zM50 40h1v1h-1zM50 41h1v1h-1zM26 43h1v1h-1zM49 43h1v1h-1zM48 45h1v1h-1zM28 46h1v1h-1zM29 47h1v1h-1zM30 48h1v1h-1zM45 48h1v1h-1zM32 49h1v1h-1zM44 49h1v1h-1zM34 50h2v1h-2zM41 50h1v1h-1z"/>
<path fill="#e6f0f9" d="M17 12h1v1h-1zM25 12h1v1h-1zM15 13h1v1h-1zM27 13h1v1h-1zM11 17h1v1h-1zM31 17h1v1h-1zM10 20h1v1h-1zM33 21h1v1h-1zM34 23h1v1h-1zM10 25h1v1h-1zM36 25h1v1h-1zM40 26h1v1h-1zM11 28h1v1h-1zM44 28h1v1h-1zM48 32h1v1h-1zM19 34h1v1h-1zM49 34h1v1h-1zM22 35h1v1h-1zM24 36h1v1h-1zM25 38h1v1h-1zM25 39h1v1h-1zM26 42h1v1h-1zM49 42h1v1h-1zM27 44h1v1h-1zM28 45h1v1h-1zM47 46h1v1h-1zM46 47h1v1h-1zM31 48h1v1h-1zM33 49h1v1h-1zM43 49h1v1h-1zM36 50h5v1h-5z"/>
<path fill="#e3eef9" d="M18 12h1v1h-1zM24 12h1v1h-1zM14 14h1v1h-1zM28 14h1v1h-1zM13 15h1v1h-1zM29 15h1v1h-1zM12 16h1v1h-1zM30 16h1v1h-1zM11 18h1v1h-1zM32 19h1v1h-1zM10 21h1v1h-1zM10 22h1v1h-1zM33 22h1v1h-1zM10 23h1v1h-1zM10 24h1v1h-1zM34 24h1v1h-1zM35 25h1v1h-1zM38 26h2v1h-2zM11 27h1v1h-1zM42 27h1v1h-1zM12 29h1v1h-1zM45 29h1v1h-1zM13 30h1v1h-1zM46 30h1v1h-1zM14 31h1v1h-1zM47 31h1v1h-1zM15 32h1v1h-1zM17 33h1v1h-1zM20 34h1v1h-1zM23 35h1v1h-1zM49 35h1v1h-1zM25 37h1v1h-1zM26 41h1v1h-1zM49 41h1v1h-1zM27 43h1v1h-1zM48 44h1v1h-1zM29 46h1v1h-1zM30 47h1v1h-1zM44 48h1v1h-1zM42 49h1v1h-1z"/>
<path fill="#e1edf8" d="M19 12h2v1h-2zM23 12h1v1h-1zM16 13h1v1h-1zM26 13h1v1h-1zM31 18h1v1h-1zM11 19h1v1h-1zM32 20h1v1h-1zM33 23h1v1h-1zM37 26h1v1h-1zM41 27h1v1h-1zM43 28h1v1h-1zM16 32h1v1h-1zM18 33h1v1h-1zM48 33h1v1h-1zM21 34h1v1h-1zM24 35h1v1h-1zM49 36h1v1h-1zM49 37h1v1h-1zM26 40h1v1h-1zM49 40h1v1h-1zM48 43h1v1h-1zM28 44h1v1h-1zM47 45h1v1h-1zM46 46h1v1h-1zM45 47h1v1h-1zM32 48h1v1h-1zM34 49h1v1h-1zM41 49h1v1h-1z"/>
<path fill="#deebf7" d="M21 12h2v1h-2zM17 13h1v1h-1zM15 14h1v1h-1zM27 14h1v1h-1zM13 16h1v1h-1zM12 17h1v1h-1zM32 21h1v1h-1zM33 24h1v1h-1zM34 25h1v1h-1zM11 26h1v1h-1zM36 26h1v1h-1zM40 27h1v1h-1zM12 28h1v1h-1zM44 29h1v1h-1zM47 32h1v1h-1zM22 34h1v1h-1zM48 34h1v1h-1zM25 36h1v1h-1zM49 38h1v1h-1zM26 39h1v1h-1zM49 39h1v1h-1zM27 42h1v1h-1zM29 45h1v1h-1zM30 46h1v1h-1zM31 47h1v1h-1zM43 48h1v1h-1zM35 49h2v1h-2zM40 49h1v1h-1z"/>
<path fill="#d9e8f5" d="M18 13h1v1h-1zM24 13h1v1h-1zM16 14h1v1h-1zM12 18h1v1h-1zM11 22h1v1h-1zM11 23h1v1h-1zM32 23h1v1h-1zM33 25h1v1h-1zM34 26h1v1h-1zM12 27h1v1h-1zM38 27h1v1h-1zM20 33h1v1h-1zM47 33h1v1h-1zM24 34h1v1h-1zM48 35h1v1h-1zM26 36h1v1h-1zM48 41h1v1h-1zM28 43h1v1h-1zM46 45h1v1h-1zM45 46h1v1h-1zM32 47h1v1h-1zM34 48h1v1h-1zM42 48h1v1h-1z"/>
<path fill="#d7e6f5" d="M19 13h1v1h-1zM23 13h1v1h-1zM26 14h1v1h-1zM13 17h1v1h-1zM30 18h1v1h-1zM12 19h1v1h-1zM31 20h1v1h-1zM36 27h2v1h-2zM13 28h1v1h-1zM41 28h1v1h-1zM43 29h1v1h-1zM16 31h1v1h-1zM18 32h1v1h-1zM21 33h2v1h-2zM25 34h1v1h-1zM48 36h1v1h-1zM27 40h1v1h-1zM48 40h1v1h-1zM47 43h1v1h-1zM29 44h1v1h-1zM31 46h1v1h-1zM41 48h1v1h-1z"/>
<path fill="#d5e5f4" d="M20 13h3v1h-3zM15 15h1v1h-1zM27 15h1v1h-1zM14 16h1v1h-1zM29 17h1v1h-1zM31 21h1v1h-1zM32 24h1v1h-1zM12 26h1v1h-1zM33 26h1v1h-1zM35 27h1v1h-1zM40 28h1v1h-1zM14 29h1v1h-1zM15 30h1v1h-1zM44 30h1v1h-1zM45 31h1v1h-1zM46 32h1v1h-1zM23 33h1v1h-1zM26 35h1v1h-1zM48 37h1v1h-1zM48 38h1v1h-1zM27 39h1v1h-1zM48 39h1v1h-1zM28 42h1v1h-1zM30 45h1v1h-1zM43 47h1v1h-1zM35 48h1v1h-1zM40 48h1v1h-1z"/>
<path fill="#dce9f6" d="M25 13h1v1h-1zM14 15h1v1h-1zM28 15h1v1h-1zM29 16h1v1h-1zM30 17h1v1h-1zM31 19h1v1h-1zM11 20h1v1h-1zM11 21h1v1h-1zM32 22h1v1h-1zM11 24h1v1h-1zM11 25h1v1h-1zM35 26h1v1h-1zM39 27h1v1h-1zM42 28h1v1h-1zM13 29h1v1h-1zM14 30h1v1h-1zM45 30h1v1h-1zM15 31h1v1h-1zM46 31h1v1h-1zM17 32h1v1h-1zM19 33h1v1h-1zM23 34h1v1h-1zM25 35h1v1h-1zM26 37h1v1h-1zM26 38h1v1h-1zM27 41h1v1h-1zM48 42h1v1h-1zM47 44h1v1h-1zM44 47h1v1h-1zM33 48h1v1h-1zM37 49h3v1h-3z"/>
<path fill="#d2e3f3" d="M17 14h1v1h-1zM25 14h1v1h-1zM28 16h1v1h-1zM12 20h1v1h-1zM12 25h1v1h-1zM32 25h1v1h-1zM34 27h1v1h-1zM42 29h1v1h-1zM19 32h1v1h-1zM24 33h1v1h-1zM26 34h1v1h-1zM47 34h1v1h-1zM27 38h1v1h-1zM47 42h1v1h-1zM46 44h1v1h-1zM45 45h1v1h-1zM44 46h1v1h-1zM33 47h1v1h-1zM36 48h1v1h-1zM39 48h1v1h-1z"/>
<path fill="#cde0f1" d="M18 14h1v1h-1zM24 14h1v1h-1zM16 15h1v1h-1zM26 15h1v1h-1zM14 17h1v1h-1zM12 22h1v1h-1zM12 23h1v1h-1zM31 23h1v1h-1zM37 28h2v1h-2zM43 30h1v1h-1zM20 32h1v1h-1zM46 33h1v1h-1zM27 35h1v1h-1zM28 40h1v1h-1zM47 41h1v1h-1zM30 44h1v1h-1zM31 45h1v1h-1zM34 47h1v1h-1z"/>
<path fill="#cbdef1" d="M19 14h1v1h-1zM15 16h1v1h-1zM27 16h1v1h-1zM29 18h1v1h-1zM13 19h1v1h-1zM30 20h1v1h-1zM31 24h1v1h-1zM32 27h1v1h-1zM14 28h1v1h-1zM35 28h2v1h-2zM15 29h1v1h-1zM41 29h1v1h-1zM16 30h1v1h-1zM18 31h1v1h-1zM44 31h1v1h-1zM21 32h2v1h-2zM45 32h1v1h-1zM26 33h1v1h-1zM27 34h1v1h-1zM47 36h1v1h-1zM47 40h1v1h-1zM46 43h1v1h-1zM43 46h1v1h-1zM41 47h1v1h-1z"/>
<path fill="#c9ddf0" d="M20 14h1v1h-1zM23 14h1v1h-1zM28 17h1v1h-1zM31 25h1v1h-1zM13 26h1v1h-1zM33 28h2v1h-2zM23 32h2v1h-2zM47 37h1v1h-1zM28 39h1v1h-1zM47 39h1v1h-1zM29 42h1v1h-1zM45 44h1v1h-1zM44 45h1v1h-1zM35 47h1v1h-1z"/>
<path fill="#c6dbef" d="M21 14h2v1h-2zM17 15h1v1h-1zM25 15h1v1h-1zM30 21h1v1h-1zM31 26h1v1h-1zM31 27h1v1h-1zM32 28h1v1h-1zM40 29h1v1h-1zM42 30h1v1h-1zM25 32h2v1h-2zM27 33h1v1h-1zM46 34h1v1h-1zM28 38h1v1h-1zM47 38h1v1h-1zM46 42h1v1h-1zM33 46h1v1h-1zM40 47h1v1h-1z"/>
<path fill="#bad6eb" d="M18 15h1v1h-1zM24 15h1v1h-1zM27 17h1v1h-1zM28 18h1v1h-1zM13 22h1v1h-1zM13 23h1v1h-1zM30 23h1v1h-1zM30 24h1v1h-1zM15 28h1v1h-1zM16 29h1v1h-1zM32 29h3v1h-3zM37 29h2v1h-2zM41 30h1v1h-1zM20 31h1v1h-1zM28 32h1v1h-1zM29 40h1v1h-1zM46 41h1v1h-1zM45 43h1v1h-1zM43 45h1v1h-1zM34 46h1v1h-1z"/>
<path fill="#b2d2e8" d="M19 15h1v1h-1zM23 15h1v1h-1zM14 26h1v1h-1zM29 30h2v1h-2zM22 31h3v1h-3zM29 31h1v1h-1zM29 32h1v1h-1zM45 34h1v1h-1zM29 39h1v1h-1zM46 40h1v1h-1zM33 45h1v1h-1zM35 46h1v1h-1z"/>
<path fill="#aed1e7" d="M20 15h1v1h-1zM22 15h1v1h-1zM17 16h1v1h-1zM25 16h1v1h-1zM29 21h1v1h-1zM29 29h1v1h-1zM28 30h1v1h-1zM31 30h1v1h-1zM40 30h1v1h-1zM42 31h1v1h-1zM29 33h1v1h-1zM29 34h1v1h-1zM46 37h1v1h-1zM29 38h1v1h-1zM46 38h1v1h-1zM46 39h1v1h-1zM45 42h1v1h-1zM31 43h1v1h-1zM32 44h1v1h-1zM40 46h1v1h-1z"/>
<path fill="#aacfe5" d="M21 15h1v1h-1zM16 17h1v1h-1zM15 18h1v1h-1zM28 19h1v1h-1zM14 20h1v1h-1zM14 25h1v1h-1zM15 27h1v1h-1zM29 28h1v1h-1zM17 29h1v1h-1zM19 30h1v1h-1zM27 30h1v1h-1zM32 30h1v1h-1zM30 31h1v1h-1zM43 32h1v1h-1zM44 33h1v1h-1zM29 35h1v1h-1zM29 36h1v1h-1zM29 37h1v1h-1zM30 41h1v1h-1zM42 45h1v1h-1zM36 46h1v1h-1z"/>
<path fill="#bed8ec" d="M16 16h1v1h-1zM26 16h1v1h-1zM15 17h1v1h-1zM13 21h1v1h-1zM13 24h1v1h-1zM31 28h1v1h-1zM43 31h1v1h-1zM44 32h1v1h-1zM28 33h1v1h-1zM45 33h1v1h-1zM28 34h1v1h-1zM28 35h1v1h-1zM46 35h1v1h-1zM31 44h1v1h-1zM38 47h1v1h-1z"/>
<path fill="#a3cce3" d="M18 16h1v1h-1zM14 21h1v1h-1zM29 23h1v1h-1zM14 24h1v1h-1zM29 26h1v1h-1zM34 30h1v1h-1zM45 35h1v1h-1zM45 41h1v1h-1zM43 44h1v1h-1zM34 45h1v1h-1zM38 46h1v1h-1z"/>
<path fill="#94c4df" d="M19 16h1v1h-1zM23 16h1v1h-1zM17 17h1v1h-1zM16 18h1v1h-1zM22 30h2v1h-2zM42 32h1v1h-1zM30 34h1v1h-1zM30 39h1v1h-1zM45 40h1v1h-1zM32 43h1v1h-1zM35 45h1v1h-1z"/>
<path fill="#8abfdd" d="M20 16h3v1h-3zM26 18h1v1h-1zM15 20h1v1h-1zM27 28h1v1h-1zM31 33h1v1h-1zM30 36h1v1h-1zM30 37h1v1h-1zM30 38h1v1h-1zM45 38h1v1h-1zM31 41h1v1h-1zM43 43h1v1h-1zM40 45h1v1h-1z"/>
<path fill="#9dcae1" d="M24 16h1v1h-1zM28 20h1v1h-1zM14 22h1v1h-1zM14 23h1v1h-1zM29 24h1v1h-1zM29 25h1v1h-1zM28 28h1v1h-1zM27 29h1v1h-1zM20 30h1v1h-1zM25 30h1v1h-1zM35 30h4v1h-4zM41 31h1v1h-1zM30 33h1v1h-1zM30 40h1v1h-1zM31 42h1v1h-1z"/>
<path fill="#7eb9da" d="M18 17h1v1h-1zM28 22h1v1h-1zM28 25h1v1h-1zM25 29h1v1h-1zM39 31h1v1h-1zM34 44h1v1h-1zM37 45h2v1h-2z"/>
<path fill="#70b1d7" d="M19 17h1v1h-1zM25 18h1v1h-1zM26 19h1v1h-1zM17 27h1v1h-1zM21 29h1v1h-1zM23 29h1v1h-1zM32 33h1v1h-1zM44 36h1v1h-1zM44 40h1v1h-1zM43 42h1v1h-1zM35 44h1v1h-1z"/>
<path fill="#66aad4" d="M20 17h1v1h-1zM16 20h1v1h-1zM27 21h1v1h-1zM27 26h1v1h-1zM40 32h1v1h-1zM31 36h1v1h-1zM44 37h1v1h-1zM44 39h1v1h-1zM40 44h1v1h-1z"/>
<path fill="#62a7d2" d="M21 17h2v1h-2zM16 25h1v1h-1zM19 28h1v1h-1zM25 28h1v1h-1zM34 32h1v1h-1zM43 35h1v1h-1zM31 37h1v1h-1zM31 38h1v1h-1zM44 38h1v1h-1zM32 41h1v1h-1zM34 43h1v1h-1zM36 44h1v1h-1z"/>
<path fill="#69add6" d="M23 17h1v1h-1zM22 29h1v1h-1zM31 35h1v1h-1zM31 39h1v1h-1zM42 43h1v1h-1z"/>
<path fill="#79b6d9" d="M24 17h1v1h-1zM16 19h1v1h-1zM27 20h1v1h-1zM15 21h1v1h-1zM28 23h1v1h-1zM15 24h1v1h-1zM28 24h1v1h-1zM20 29h1v1h-1zM35 31h1v1h-1zM38 31h1v1h-1zM41 32h1v1h-1zM31 34h1v1h-1zM44 41h1v1h-1zM32 42h1v1h-1zM33 43h1v1h-1z"/>
<path fill="#8fc2de" d="M25 17h1v1h-1zM27 19h1v1h-1zM28 21h1v1h-1zM16 27h1v1h-1zM28 27h1v1h-1zM17 28h1v1h-1zM26 29h1v1h-1zM33 31h1v1h-1zM40 31h1v1h-1zM43 33h1v1h-1zM30 35h1v1h-1zM45 37h1v1h-1zM45 39h1v1h-1zM44 42h1v1h-1zM42 44h1v1h-1z"/>
<path fill="#a6cee4" d="M26 17h1v1h-1zM27 18h1v1h-1zM29 22h1v1h-1zM29 27h1v1h-1zM16 28h1v1h-1zM28 29h1v1h-1zM26 30h1v1h-1zM33 30h1v1h-1zM39 30h1v1h-1zM31 31h1v1h-1zM30 32h1v1h-1zM44 43h1v1h-1zM37 46h1v1h-1zM39 46h1v1h-1z"/>
<path fill="#d0e1f2" d="M13 18h1v1h-1zM30 19h1v1h-1zM12 21h1v1h-1zM31 22h1v1h-1zM12 24h1v1h-1zM32 26h1v1h-1zM13 27h1v1h-1zM33 27h1v1h-1zM39 28h1v1h-1zM17 31h1v1h-1zM25 33h1v1h-1zM47 35h1v1h-1zM27 36h1v1h-1zM27 37h1v1h-1zM28 41h1v1h-1zM29 43h1v1h-1zM32 46h1v1h-1zM42 47h1v1h-1zM37 48h2v1h-2z"/>
<path fill="#c2d9ee" d="M14 18h1v1h-1zM29 19h1v1h-1zM13 20h1v1h-1zM30 22h1v1h-1zM13 25h1v1h-1zM14 27h1v1h-1zM39 29h1v1h-1zM17 30h1v1h-1zM19 31h1v1h-1zM27 32h1v1h-1zM28 36h1v1h-1zM28 37h1v1h-1zM29 41h1v1h-1zM30 43h1v1h-1zM32 45h1v1h-1zM42 46h1v1h-1zM36 47h2v1h-2zM39 47h1v1h-1z"/>
<path fill="#75b4d8" d="M17 18h1v1h-1zM15 22h1v1h-1zM15 23h1v1h-1zM16 26h1v1h-1zM27 27h1v1h-1zM18 28h1v1h-1zM26 28h1v1h-1zM24 29h1v1h-1zM36 31h2v1h-2zM33 32h1v1h-1zM42 33h1v1h-1zM43 34h1v1h-1zM31 40h1v1h-1zM41 44h1v1h-1z"/>
<path fill="#5ea3d1" d="M18 18h1v1h-1zM27 22h1v1h-1zM27 25h1v1h-1zM26 27h1v1h-1zM41 33h1v1h-1zM32 34h1v1h-1zM33 42h1v1h-1zM39 44h1v1h-1z"/>
<path fill="#4e94ca" d="M19 18h1v1h-1zM23 18h1v1h-1zM26 26h1v1h-1zM25 27h1v1h-1zM21 28h3v1h-3zM43 40h1v1h-1zM35 43h1v1h-1z"/>
<path fill="#478dc6" d="M20 18h1v1h-1zM22 18h1v1h-1zM18 19h1v1h-1zM17 25h1v1h-1zM19 27h1v1h-1zM33 34h1v1h-1zM42 35h1v1h-1zM32 36h1v1h-1zM43 38h1v1h-1zM43 39h1v1h-1z"/>
<path fill="#4389c4" d="M21 18h1v1h-1zM24 19h1v1h-1zM26 25h1v1h-1zM18 26h1v1h-1zM41 34h1v1h-1zM32 37h1v1h-1zM32 38h1v1h-1zM42 41h1v1h-1zM36 43h1v1h-1z"/>
<path fill="#5aa0cf" d="M24 18h1v1h-1zM17 19h1v1h-1zM26 20h1v1h-1zM16 21h1v1h-1zM27 24h1v1h-1zM17 26h1v1h-1zM18 27h1v1h-1zM35 32h1v1h-1zM39 32h1v1h-1zM33 33h1v1h-1zM42 34h1v1h-1zM43 41h1v1h-1zM37 44h2v1h-2z"/>
<path fill="#b7d4ea" d="M14 19h1v1h-1zM29 20h1v1h-1zM30 25h1v1h-1zM30 26h1v1h-1zM30 27h1v1h-1zM30 28h1v1h-1zM30 29h2v1h-2zM35 29h2v1h-2zM18 30h1v1h-1zM21 31h1v1h-1zM25 31h4v1h-4zM46 36h1v1h-1zM30 42h1v1h-1zM44 44h1v1h-1zM41 46h1v1h-1z"/>
<path fill="#98c7e0" d="M15 19h1v1h-1zM15 26h1v1h-1zM18 29h1v1h-1zM21 30h1v1h-1zM24 30h1v1h-1zM32 31h1v1h-1zM31 32h1v1h-1zM44 34h1v1h-1zM45 36h1v1h-1zM33 44h1v1h-1zM41 45h1v1h-1z"/>
<path fill="#3b7ebe" d="M19 19h1v1h-1zM17 22h1v1h-1zM17 23h1v1h-1zM36 33h1v1h-1zM38 33h1v1h-1zM33 35h1v1h-1zM42 36h1v1h-1zM33 40h1v1h-1zM35 42h1v1h-1z"/>
<path fill="#3273b8" d="M20 19h1v1h-1zM22 19h1v1h-1zM24 20h1v1h-1zM25 25h1v1h-1zM33 36h1v1h-1zM42 37h1v1h-1zM33 39h1v1h-1zM42 39h1v1h-1zM41 41h1v1h-1z"/>
<path fill="#3070b6" d="M21 19h1v1h-1zM24 26h1v1h-1zM33 37h1v1h-1zM33 38h1v1h-1zM42 38h1v1h-1zM36 42h1v1h-1z"/>
<path fill="#387bbc" d="M23 19h1v1h-1zM18 20h1v1h-1zM21 27h1v1h-1zM23 27h1v1h-1zM37 33h1v1h-1zM34 34h1v1h-1zM40 34h1v1h-1zM42 40h1v1h-1zM34 41h1v1h-1z"/>
<path fill="#559bcd" d="M25 19h1v1h-1zM27 23h1v1h-1zM16 24h1v1h-1zM20 28h1v1h-1zM24 28h1v1h-1zM38 32h1v1h-1zM32 40h1v1h-1zM41 43h1v1h-1z"/>
<path fill="#4a91c8" d="M17 20h1v1h-1zM26 21h1v1h-1zM34 33h1v1h-1zM40 33h1v1h-1zM43 37h1v1h-1zM32 39h1v1h-1zM33 41h1v1h-1zM34 42h1v1h-1zM40 43h1v1h-1z"/>
<path fill="#2d6ab2" d="M19 20h1v1h-1zM23 20h1v1h-1zM25 23h1v1h-1zM19 25h1v1h-1zM20 26h1v1h-1zM41 36h1v1h-1zM34 40h1v1h-1zM35 41h1v1h-1zM37 42h2v1h-2z"/>
<path fill="#2963ae" d="M20 20h1v1h-1zM24 25h1v1h-1zM21 26h2v1h-2zM37 34h1v1h-1zM40 41h1v1h-1z"/>
<path fill="#2760ac" d="M21 20h2v1h-2zM19 21h1v1h-1zM34 36h1v1h-1zM41 37h1v1h-1zM34 39h1v1h-1z"/>
<path fill="#4185c2" d="M25 20h1v1h-1zM26 22h1v1h-1zM24 27h1v1h-1zM35 33h1v1h-1zM39 33h1v1h-1zM41 42h1v1h-1zM39 43h1v1h-1z"/>
<path fill="#3e82c0" d="M17 21h1v1h-1zM26 23h1v1h-1zM17 24h1v1h-1zM26 24h1v1h-1zM25 26h1v1h-1zM20 27h1v1h-1zM37 43h2v1h-2z"/>
<path fill="#2e6db4" d="M18 21h1v1h-1zM25 22h1v1h-1zM18 24h1v1h-1zM25 24h1v1h-1zM35 34h1v1h-1zM39 34h1v1h-1zM34 35h1v1h-1zM39 42h1v1h-1z"/>
<path fill="#2357a5" d="M20 21h1v1h-1zM22 21h1v1h-1zM21 25h1v1h-1zM40 40h1v1h-1zM37 41h2v1h-2z"/>
<path fill="#2255a4" d="M21 21h1v1h-1zM20 24h1v1h-1zM22 25h1v1h-1zM36 35h1v1h-1zM38 35h1v1h-1z"/>
<path fill="#245aa8" d="M23 21h1v1h-1zM19 22h1v1h-1zM19 23h1v1h-1zM24 23h1v1h-1zM24 24h1v1h-1zM23 25h1v1h-1zM39 35h1v1h-1zM40 36h1v1h-1zM34 37h1v1h-1zM34 38h1v1h-1zM35 40h1v1h-1zM39 41h1v1h-1z"/>
<path fill="#2b66b0" d="M24 21h1v1h-1zM18 22h1v1h-1zM18 23h1v1h-1zM23 26h1v1h-1zM36 34h1v1h-1zM38 34h1v1h-1zM40 35h1v1h-1zM41 40h1v1h-1z"/>
<path fill="#3476ba" d="M25 21h1v1h-1zM18 25h1v1h-1zM19 26h1v1h-1zM22 27h1v1h-1zM41 35h1v1h-1zM40 42h1v1h-1z"/>
<path fill="#5298cb" d="M16 22h1v1h-1zM16 23h1v1h-1zM36 32h2v1h-2zM32 35h1v1h-1zM43 36h1v1h-1zM42 42h1v1h-1z"/>
<path fill="#2253a2" d="M20 22h1v1h-1zM23 22h1v1h-1zM20 23h1v1h-1zM23 24h1v1h-1zM37 35h1v1h-1zM35 36h1v1h-1zM40 37h1v1h-1zM35 39h1v1h-1zM40 39h1v1h-1zM36 40h1v1h-1z"/>
<path fill="#2151a0" d="M21 22h2v1h-2zM23 23h1v1h-1zM21 24h2v1h-2zM39 36h1v1h-1zM35 37h1v1h-1zM40 38h1v1h-1zM39 40h1v1h-1z"/>
<path fill="#265daa" d="M24 22h1v1h-1zM19 24h1v1h-1zM20 25h1v1h-1zM35 35h1v1h-1zM41 38h1v1h-1zM41 39h1v1h-1zM36 41h1v1h-1z"/>
<path fill="#204f9e" d="M21 23h2v1h-2zM35 38h1v1h-1zM37 40h2v1h-2z"/>
<path fill="#83bcdb" d="M15 25h1v1h-1zM28 26h1v1h-1zM19 29h1v1h-1zM34 31h1v1h-1zM32 32h1v1h-1zM44 35h1v1h-1zM36 45h1v1h-1zM39 45h1v1h-1z"/>
<path fill="#1f4c9b" d="M36 36h1v1h-1zM38 36h1v1h-1zM39 37h1v1h-1zM36 39h1v1h-1zM39 39h1v1h-1z"/>
<path fill="#1f4a9a" d="M37 36h1v1h-1zM39 38h1v1h-1zM37 39h2v1h-2z"/>
<path fill="#1e4898" d="M36 37h1v1h-1zM38 37h1v1h-1zM36 38h1v1h-1zM38 38h1v1h-1z"/>
<path fill="#1e4696" d="M37 37h1v1h-1zM37 38h1v1h-1z"/>
</g>
<rect x="848.3" y="132.3" width="479.5" height="20.3" fill="url(#cbb)" transform="translate(0,0)"/>
<rect x="846.25" y="130.15" width="483.60" height="24.60" fill="none" stroke="#000" stroke-width="4.3"/>
<line x1="846.20" y1="110.40" x2="846.20" y2="128.50" stroke="#000" stroke-width="4.3" stroke-linecap="butt"/>
<text x="846.20" y="89.20" font-size="41" text-anchor="middle" >0</text>
<line x1="1088.10" y1="110.40" x2="1088.10" y2="128.50" stroke="#000" stroke-width="4.3" stroke-linecap="butt"/>
<text x="1088.10" y="89.20" font-size="41" text-anchor="middle" >1.5</text>
<line x1="1329.90" y1="110.40" x2="1329.90" y2="128.50" stroke="#000" stroke-width="4.3" stroke-linecap="butt"/>
<text x="1329.90" y="89.20" font-size="41" text-anchor="middle" >3</text>
<text x="1088.00" y="36.90" font-size="41" text-anchor="middle" >Counts (x<tspan letter-spacing="3">10</tspan><tspan font-size="29" dy="-15">3</tspan><tspan dy="15">)</tspan></text>
<rect x="846.25" y="185.35" width="483.60" height="487.10" fill="none" stroke="#000" stroke-width="4.3"/>
<line x1="825.90" y1="234.10" x2="844.50" y2="234.10" stroke="#000" stroke-width="4.3" stroke-linecap="butt"/>
<text x="809.00" y="248.20" font-size="41" text-anchor="end" >4</text>
<line x1="825.90" y1="429.10" x2="844.50" y2="429.10" stroke="#000" stroke-width="4.3" stroke-linecap="butt"/>
<text x="809.00" y="443.20" font-size="41" text-anchor="end" >0</text>
<line x1="825.90" y1="623.90" x2="844.50" y2="623.90" stroke="#000" stroke-width="4.3" stroke-linecap="butt"/>
<text x="809.00" y="638.00" font-size="41" text-anchor="end" >−4</text>
<line x1="894.50" y1="674.20" x2="894.50" y2="692.70" stroke="#000" stroke-width="4.3" stroke-linecap="butt"/>
<text x="894.50" y="739.70" font-size="41" text-anchor="middle" >2</text>
<line x1="1088.10" y1="674.20" x2="1088.10" y2="692.70" stroke="#000" stroke-width="4.3" stroke-linecap="butt"/>
<text x="1088.10" y="739.70" font-size="41" text-anchor="middle" >6</text>
<line x1="1281.60" y1="674.20" x2="1281.60" y2="692.70" stroke="#000" stroke-width="4.3" stroke-linecap="butt"/>
<text x="1281.60" y="739.70" font-size="41" text-anchor="middle" >10</text>
<text x="1089.00" y="793.50" font-size="41" text-anchor="middle" >I/<tspan font-style="italic">σ</tspan></text>
<text x="737.00" y="428.50" font-size="41" text-anchor="middle" transform="rotate(-90 737 428.5)">Q/<tspan font-style="italic">σ</tspan></text>
<text x="707.00" y="34.40" font-size="41" text-anchor="start" font-weight="bold">b</text>
<line x1="994.2" y1="447.7" x2="994.2" y2="488.4" stroke="#000" stroke-width="3.8"/>
<text x="1000.00" y="480.00" font-size="40" text-anchor="start" font-style="italic">g</text>
<polyline points="1030.5,448 1038,466.5 1030.5,485" fill="none" stroke="#000" stroke-width="3.4"/>
<line x1="1125.2" y1="570.0" x2="1125.2" y2="610.7" stroke="#000" stroke-width="3.8"/>
<text x="1133.00" y="602.30" font-size="40" text-anchor="start" font-style="italic">e</text>
<polyline points="1161,570 1168.5,588.5 1161,607" fill="none" stroke="#000" stroke-width="3.4"/>
<rect x="176.4" y="1010.90" width="477.60" height="24.10" fill="url(#gc0)"/>
<rect x="176.4" y="1034.50" width="477.60" height="51.70" fill="url(#gc1)"/>
<rect x="176.4" y="1085.70" width="477.60" height="51.70" fill="url(#gc2)"/>
<rect x="176.4" y="1136.90" width="477.60" height="51.70" fill="url(#gc3)"/>
<rect x="176.4" y="1188.10" width="477.60" height="51.70" fill="url(#gc4)"/>
<rect x="176.4" y="1239.30" width="477.60" height="51.70" fill="url(#gc5)"/>
<rect x="176.4" y="1290.50" width="477.60" height="51.70" fill="url(#gc6)"/>
<rect x="176.4" y="1341.70" width="477.60" height="51.70" fill="url(#gc7)"/>
<rect x="176.4" y="1392.90" width="477.60" height="51.70" fill="url(#gc8)"/>
<rect x="176.4" y="1444.10" width="477.60" height="49.50" fill="url(#gc9)"/>
<rect x="176.4" y="956.3" width="477.6" height="20.2" fill="url(#cbv)"/>
<rect x="174.25" y="954.15" width="481.80" height="24.40" fill="none" stroke="#000" stroke-width="4.3"/>
<line x1="214.60" y1="934.00" x2="214.60" y2="952.50" stroke="#000" stroke-width="4.3" stroke-linecap="butt"/>
<text x="214.60" y="912.30" font-size="41" text-anchor="middle" >1.2</text>
<line x1="415.30" y1="934.00" x2="415.30" y2="952.50" stroke="#000" stroke-width="4.3" stroke-linecap="butt"/>
<text x="415.30" y="912.30" font-size="41" text-anchor="middle" >1.6</text>
<line x1="616.00" y1="934.00" x2="616.00" y2="952.50" stroke="#000" stroke-width="4.3" stroke-linecap="butt"/>
<text x="616.00" y="912.30" font-size="41" text-anchor="middle" >2.0</text>
<text x="416.20" y="859.50" font-size="41" text-anchor="middle" >Im <tspan font-style="italic">S</tspan><tspan font-size="29" dy="7">21</tspan><tspan dy="-7"> (arb. units)</tspan></text>
<rect x="174.25" y="1008.75" width="481.80" height="486.50" fill="none" stroke="#000" stroke-width="4.3"/>
<line x1="154.50" y1="1072.70" x2="172.50" y2="1072.70" stroke="#000" stroke-width="4.3" stroke-linecap="butt"/>
<text x="137.00" y="1086.80" font-size="41" text-anchor="end" >0.4</text>
<line x1="154.50" y1="1201.00" x2="172.50" y2="1201.00" stroke="#000" stroke-width="4.3" stroke-linecap="butt"/>
<text x="137.00" y="1215.10" font-size="41" text-anchor="end" >0.3</text>
<line x1="154.50" y1="1329.30" x2="172.50" y2="1329.30" stroke="#000" stroke-width="4.3" stroke-linecap="butt"/>
<text x="137.00" y="1343.40" font-size="41" text-anchor="end" >0.2</text>
<line x1="154.50" y1="1457.60" x2="172.50" y2="1457.60" stroke="#000" stroke-width="4.3" stroke-linecap="butt"/>
<text x="137.00" y="1471.70" font-size="41" text-anchor="end" >0.1</text>
<line x1="276.00" y1="1497.00" x2="276.00" y2="1515.50" stroke="#000" stroke-width="4.3" stroke-linecap="butt"/>
<text x="276.00" y="1562.50" font-size="41" text-anchor="middle" >25</text>
<line x1="403.50" y1="1497.00" x2="403.50" y2="1515.50" stroke="#000" stroke-width="4.3" stroke-linecap="butt"/>
<text x="403.50" y="1562.50" font-size="41" text-anchor="middle" >50</text>
<line x1="530.10" y1="1497.00" x2="530.10" y2="1515.50" stroke="#000" stroke-width="4.3" stroke-linecap="butt"/>
<text x="530.10" y="1562.50" font-size="41" text-anchor="middle" >75</text>
<line x1="656.30" y1="1497.00" x2="656.30" y2="1515.50" stroke="#000" stroke-width="4.3" stroke-linecap="butt"/>
<text x="656.30" y="1562.50" font-size="41" text-anchor="middle" >100</text>
<text x="416.00" y="1616.30" font-size="41" text-anchor="middle" ><tspan font-style="italic">t</tspan> (ns)</text>
<text x="55.00" y="1254.00" font-size="41" text-anchor="middle" transform="rotate(-90 55 1254)"><tspan font-style="italic">A</tspan> (V)</text>
<text x="-1.50" y="861.00" font-size="41" text-anchor="start" font-weight="bold">c</text>
<text x="707.00" y="859.80" font-size="41" text-anchor="start" font-weight="bold">d</text>
<text x="798.00" y="950.50" font-size="40" text-anchor="start" fill="#0070c0">Qubit</text>
<path d="M968.2,941 L968.6,937 C975,905 976,877 985,877 L1089,877 C1098,877 1099,905 1105.3,937 L1105.7,941 Z" fill="#c0dbee"/>
<path d="M968.2,941 L968.6,937 C975,905 976,877 985,877 L1089,877 C1098,877 1099,905 1105.3,937 L1105.7,941" fill="none" stroke="#0070c0" stroke-width="4.5"/>
<line x1="902.80" y1="941.00" x2="1300.00" y2="941.00" stroke="#000" stroke-width="9" stroke-linecap="butt"/>
<polygon points="1298,923.8 1329,941 1298,958.2" fill="#000"/>
<line x1="1005.30" y1="936.00" x2="1050.00" y2="872.00" stroke="#000" stroke-width="5.5" stroke-linecap="butt"/>
<polygon points="1062.3,858.1 1042,868.7 1059.7,880.9" fill="#000"/>
<text x="1038.00" y="854.30" font-size="41" text-anchor="middle" font-style="italic">A, t</text>
<rect x="1132.3" y="906.2" width="101.3" height="64" rx="7" fill="#c0dbee" stroke="#0070c0" stroke-width="6"/>
<path d="M1144.3,955.1 A42.25,42.25 0 0 1 1222.1,955.1" fill="none" stroke="#001a2e" stroke-width="5.8"/>
<line x1="1181.50" y1="963.50" x2="1205.00" y2="925.00" stroke="#001a2e" stroke-width="6.2" stroke-linecap="butt"/>
<polygon points="1213.1,912.6 1197.7,920.2 1212.2,928.9" fill="#001a2e"/>
<text x="1245.60" y="990.70" font-size="41" text-anchor="start" fill="#231f20">Time</text>
<text x="706.50" y="1035.30" font-size="41" text-anchor="start" font-weight="bold">e</text>
<rect x="844.55" y="1009.45" width="483.40" height="485.70" fill="none" stroke="#000" stroke-width="4.3"/>
<line x1="824.10" y1="1495.20" x2="843.00" y2="1495.20" stroke="#000" stroke-width="4.3" stroke-linecap="butt"/>
<text x="809.00" y="1509.30" font-size="41" text-anchor="end" >0</text>
<line x1="824.10" y1="1279.30" x2="843.00" y2="1279.30" stroke="#000" stroke-width="4.3" stroke-linecap="butt"/>
<text x="809.00" y="1293.40" font-size="41" text-anchor="end" >20</text>
<line x1="824.10" y1="1063.50" x2="843.00" y2="1063.50" stroke="#000" stroke-width="4.3" stroke-linecap="butt"/>
<text x="809.00" y="1077.60" font-size="41" text-anchor="end" >40</text>
<line x1="844.60" y1="1496.80" x2="844.60" y2="1515.00" stroke="#000" stroke-width="4.3" stroke-linecap="butt"/>
<text x="844.60" y="1562.00" font-size="41" text-anchor="middle" >0.0</text>
<line x1="1037.80" y1="1496.80" x2="1037.80" y2="1515.00" stroke="#000" stroke-width="4.3" stroke-linecap="butt"/>
<text x="1037.80" y="1562.00" font-size="41" text-anchor="middle" >0.2</text>
<line x1="1231.50" y1="1496.80" x2="1231.50" y2="1515.00" stroke="#000" stroke-width="4.3" stroke-linecap="butt"/>
<text x="1231.50" y="1562.00" font-size="41" text-anchor="middle" >0.4</text>
<text x="1085.00" y="1616.30" font-size="41" text-anchor="middle" ><tspan font-style="italic">A</tspan> (V)</text>
<text x="735.50" y="1252.60" font-size="41" text-anchor="middle" transform="rotate(-90 735.5 1252.6)"><tspan font-style="italic">Ω</tspan><tspan font-size="29" dy="7" font-style="italic">R</tspan><tspan dy="-7">/2</tspan><tspan font-style="italic">π</tspan> (MHz)</text>
<circle cx="931.7" cy="1430.0" r="11.35" fill="#347abb"/>
<circle cx="970.2" cy="1380.6" r="11.35" fill="#347abb"/>
<circle cx="1008.2" cy="1327.4" r="11.35" fill="#347abb"/>
<circle cx="1046.2" cy="1282.9" r="11.35" fill="#347abb"/>
<circle cx="1084.7" cy="1240.0" r="11.35" fill="#347abb"/>
<circle cx="1124.2" cy="1202.0" r="11.35" fill="#347abb"/>
<circle cx="1162.7" cy="1165.9" r="11.35" fill="#347abb"/>
<circle cx="1201.7" cy="1127.4" r="11.35" fill="#347abb"/>
<circle cx="1240.2" cy="1092.9" r="11.35" fill="#347abb"/>
<circle cx="1278.7" cy="1060.8" r="11.35" fill="#347abb"/>
<line x1="845.00" y1="1495.00" x2="1311.70" y2="1018.50" stroke="#000" stroke-width="8.5" stroke-linecap="butt"/>
</svg></body></html>
